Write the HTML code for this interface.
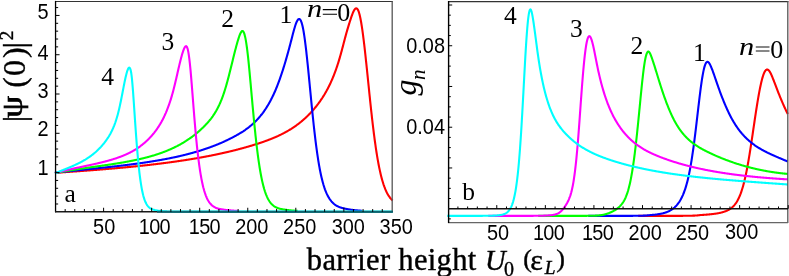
<!DOCTYPE html>
<html><head><meta charset="utf-8"><title>fig</title>
<style>
html,body{margin:0;padding:0;background:#fff;}
svg{display:block;will-change:transform}
text{fill:#000}
.sans{font-family:"Liberation Sans",sans-serif;font-size:19px}
.ser{font-family:"Liberation Serif",serif;font-size:25.5px}
</style></head><body>
<svg width="789" height="276" viewBox="0 0 789 276">
<rect width="789" height="276" fill="#fff"/>
<g fill="none" stroke-width="2.1" stroke-linejoin="round" stroke-linecap="butt">
<path d="M54.90,172.84 L55.28,172.81 L55.65,172.79 L56.03,172.76 L56.40,172.73 L56.78,172.71 L57.15,172.68 L57.53,172.66 L57.91,172.63 L58.28,172.61 L58.66,172.58 L59.03,172.56 L59.41,172.53 L59.78,172.51 L60.16,172.48 L60.54,172.46 L60.91,172.43 L61.29,172.40 L61.66,172.38 L62.04,172.35 L62.42,172.33 L62.79,172.30 L63.17,172.28 L63.54,172.25 L63.92,172.22 L64.29,172.20 L64.67,172.17 L65.05,172.15 L65.42,172.12 L65.80,172.09 L66.17,172.07 L66.55,172.04 L66.92,172.02 L67.30,171.99 L67.68,171.96 L68.05,171.94 L68.43,171.91 L68.80,171.89 L69.18,171.86 L69.55,171.83 L69.93,171.81 L70.31,171.78 L70.68,171.75 L71.06,171.73 L71.43,171.70 L71.81,171.67 L72.18,171.65 L72.56,171.62 L72.94,171.59 L73.31,171.57 L73.69,171.54 L74.06,171.51 L74.44,171.49 L74.81,171.46 L75.19,171.43 L75.57,171.41 L75.94,171.38 L76.32,171.35 L76.69,171.33 L77.07,171.30 L77.45,171.27 L77.82,171.25 L78.20,171.22 L78.57,171.19 L78.95,171.16 L79.32,171.14 L79.70,171.11 L80.08,171.08 L80.45,171.05 L80.83,171.03 L81.20,171.00 L81.58,170.97 L81.95,170.94 L82.33,170.92 L82.71,170.89 L83.08,170.86 L83.46,170.83 L83.83,170.81 L84.21,170.78 L84.58,170.75 L84.96,170.72 L85.34,170.69 L85.71,170.67 L86.09,170.64 L86.46,170.61 L86.84,170.58 L87.21,170.55 L87.59,170.52 L87.97,170.50 L88.34,170.47 L88.72,170.44 L89.09,170.41 L89.47,170.38 L89.84,170.35 L90.22,170.33 L90.60,170.30 L90.97,170.27 L91.35,170.24 L91.72,170.21 L92.10,170.18 L92.48,170.15 L92.85,170.12 L93.23,170.09 L93.60,170.06 L93.98,170.04 L94.35,170.01 L94.73,169.98 L95.11,169.95 L95.48,169.92 L95.86,169.89 L96.23,169.86 L96.61,169.83 L96.98,169.80 L97.36,169.77 L97.74,169.74 L98.11,169.71 L98.49,169.68 L98.86,169.65 L99.24,169.62 L99.61,169.59 L99.99,169.56 L100.37,169.53 L100.74,169.50 L101.12,169.47 L101.49,169.44 L101.87,169.41 L102.24,169.38 L102.62,169.35 L103.00,169.32 L103.37,169.29 L103.75,169.25 L104.12,169.22 L104.50,169.19 L104.87,169.16 L105.25,169.13 L105.63,169.10 L106.00,169.07 L106.38,169.04 L106.75,169.00 L107.13,168.97 L107.51,168.94 L107.88,168.91 L108.26,168.88 L108.63,168.85 L109.01,168.81 L109.38,168.78 L109.76,168.75 L110.14,168.72 L110.51,168.69 L110.89,168.65 L111.26,168.62 L111.64,168.59 L112.01,168.56 L112.39,168.52 L112.77,168.49 L113.14,168.46 L113.52,168.43 L113.89,168.39 L114.27,168.36 L114.64,168.33 L115.02,168.30 L115.40,168.26 L115.77,168.23 L116.15,168.20 L116.52,168.16 L116.90,168.13 L117.27,168.09 L117.65,168.06 L118.03,168.03 L118.40,167.99 L118.78,167.96 L119.15,167.93 L119.53,167.89 L119.90,167.86 L120.28,167.82 L120.66,167.79 L121.03,167.75 L121.41,167.72 L121.78,167.69 L122.16,167.65 L122.54,167.62 L122.91,167.58 L123.29,167.55 L123.66,167.51 L124.04,167.48 L124.41,167.44 L124.79,167.40 L125.17,167.37 L125.54,167.33 L125.92,167.30 L126.29,167.26 L126.67,167.23 L127.04,167.19 L127.42,167.15 L127.80,167.12 L128.17,167.08 L128.55,167.05 L128.92,167.01 L129.30,166.97 L129.67,166.94 L130.05,166.90 L130.43,166.86 L130.80,166.83 L131.18,166.79 L131.55,166.75 L131.93,166.71 L132.30,166.68 L132.68,166.64 L133.06,166.60 L133.43,166.56 L133.81,166.53 L134.18,166.49 L134.56,166.45 L134.93,166.41 L135.31,166.38 L135.69,166.34 L136.06,166.30 L136.44,166.26 L136.81,166.22 L137.19,166.18 L137.57,166.14 L137.94,166.10 L138.32,166.07 L138.69,166.03 L139.07,165.99 L139.44,165.95 L139.82,165.91 L140.20,165.87 L140.57,165.83 L140.95,165.79 L141.32,165.75 L141.70,165.71 L142.07,165.67 L142.45,165.63 L142.83,165.59 L143.20,165.55 L143.58,165.51 L143.95,165.47 L144.33,165.43 L144.70,165.38 L145.08,165.34 L145.46,165.30 L145.83,165.26 L146.21,165.22 L146.58,165.18 L146.96,165.14 L147.33,165.09 L147.71,165.05 L148.09,165.01 L148.46,164.97 L148.84,164.92 L149.21,164.88 L149.59,164.84 L149.96,164.80 L150.34,164.75 L150.72,164.71 L151.09,164.67 L151.47,164.62 L151.84,164.58 L152.22,164.54 L152.60,164.49 L152.97,164.45 L153.35,164.40 L153.72,164.36 L154.10,164.32 L154.47,164.27 L154.85,164.23 L155.23,164.18 L155.60,164.14 L155.98,164.09 L156.35,164.05 L156.73,164.00 L157.10,163.96 L157.48,163.91 L157.86,163.87 L158.23,163.82 L158.61,163.77 L158.98,163.73 L159.36,163.68 L159.73,163.63 L160.11,163.59 L160.49,163.54 L160.86,163.49 L161.24,163.45 L161.61,163.40 L161.99,163.35 L162.36,163.30 L162.74,163.26 L163.12,163.21 L163.49,163.16 L163.87,163.11 L164.24,163.07 L164.62,163.02 L164.99,162.97 L165.37,162.92 L165.75,162.87 L166.12,162.82 L166.50,162.77 L166.87,162.72 L167.25,162.67 L167.63,162.62 L168.00,162.57 L168.38,162.52 L168.75,162.47 L169.13,162.42 L169.50,162.37 L169.88,162.32 L170.26,162.27 L170.63,162.22 L171.01,162.17 L171.38,162.12 L171.76,162.07 L172.13,162.01 L172.51,161.96 L172.89,161.91 L173.26,161.86 L173.64,161.80 L174.01,161.75 L174.39,161.70 L174.76,161.65 L175.14,161.59 L175.52,161.54 L175.89,161.49 L176.27,161.43 L176.64,161.38 L177.02,161.32 L177.39,161.27 L177.77,161.22 L178.15,161.16 L178.52,161.11 L178.90,161.05 L179.27,161.00 L179.65,160.94 L180.03,160.89 L180.40,160.83 L180.78,160.77 L181.15,160.72 L181.53,160.66 L181.90,160.60 L182.28,160.55 L182.66,160.49 L183.03,160.43 L183.41,160.38 L183.78,160.32 L184.16,160.26 L184.53,160.20 L184.91,160.15 L185.29,160.09 L185.66,160.03 L186.04,159.97 L186.41,159.91 L186.79,159.85 L187.16,159.79 L187.54,159.73 L187.92,159.67 L188.29,159.61 L188.67,159.55 L189.04,159.49 L189.42,159.43 L189.79,159.37 L190.17,159.31 L190.55,159.25 L190.92,159.19 L191.30,159.13 L191.67,159.06 L192.05,159.00 L192.42,158.94 L192.80,158.88 L193.18,158.82 L193.55,158.75 L193.93,158.69 L194.30,158.63 L194.68,158.56 L195.06,158.50 L195.43,158.43 L195.81,158.37 L196.18,158.30 L196.56,158.24 L196.93,158.18 L197.31,158.11 L197.69,158.04 L198.06,157.98 L198.44,157.91 L198.81,157.85 L199.19,157.78 L199.56,157.71 L199.94,157.65 L200.32,157.58 L200.69,157.51 L201.07,157.44 L201.44,157.38 L201.82,157.31 L202.19,157.24 L202.57,157.17 L202.95,157.10 L203.32,157.03 L203.70,156.96 L204.07,156.89 L204.45,156.82 L204.82,156.75 L205.20,156.68 L205.58,156.61 L205.95,156.54 L206.33,156.47 L206.70,156.40 L207.08,156.33 L207.45,156.26 L207.83,156.18 L208.21,156.11 L208.58,156.04 L208.96,155.97 L209.33,155.89 L209.71,155.82 L210.09,155.74 L210.46,155.67 L210.84,155.60 L211.21,155.52 L211.59,155.45 L211.96,155.37 L212.34,155.30 L212.72,155.22 L213.09,155.14 L213.47,155.07 L213.84,154.99 L214.22,154.91 L214.59,154.84 L214.97,154.76 L215.35,154.68 L215.72,154.60 L216.10,154.53 L216.47,154.45 L216.85,154.37 L217.22,154.29 L217.60,154.21 L217.98,154.13 L218.35,154.05 L218.73,153.97 L219.10,153.89 L219.48,153.81 L219.85,153.73 L220.23,153.64 L220.61,153.56 L220.98,153.48 L221.36,153.40 L221.73,153.31 L222.11,153.23 L222.48,153.15 L222.86,153.06 L223.24,152.98 L223.61,152.90 L223.99,152.81 L224.36,152.73 L224.74,152.64 L225.12,152.55 L225.49,152.47 L225.87,152.38 L226.24,152.29 L226.62,152.21 L226.99,152.12 L227.37,152.03 L227.75,151.94 L228.12,151.86 L228.50,151.77 L228.87,151.68 L229.25,151.59 L229.62,151.50 L230.00,151.41 L230.38,151.32 L230.75,151.23 L231.13,151.14 L231.50,151.04 L231.88,150.95 L232.25,150.86 L232.63,150.77 L233.01,150.68 L233.38,150.58 L233.76,150.49 L234.13,150.39 L234.51,150.30 L234.88,150.20 L235.26,150.11 L235.64,150.01 L236.01,149.92 L236.39,149.82 L236.76,149.73 L237.14,149.63 L237.51,149.53 L237.89,149.43 L238.27,149.34 L238.64,149.24 L239.02,149.14 L239.39,149.04 L239.77,148.94 L240.15,148.84 L240.52,148.74 L240.90,148.64 L241.27,148.54 L241.65,148.43 L242.02,148.33 L242.40,148.23 L242.78,148.13 L243.15,148.02 L243.53,147.92 L243.90,147.82 L244.28,147.71 L244.65,147.61 L245.03,147.50 L245.41,147.40 L245.78,147.29 L246.16,147.18 L246.53,147.08 L246.91,146.97 L247.28,146.86 L247.66,146.75 L248.04,146.64 L248.41,146.53 L248.79,146.42 L249.16,146.31 L249.54,146.20 L249.91,146.09 L250.29,145.98 L250.67,145.87 L251.04,145.76 L251.42,145.65 L251.79,145.53 L252.17,145.42 L252.54,145.30 L252.92,145.19 L253.30,145.07 L253.67,144.96 L254.05,144.84 L254.42,144.73 L254.80,144.61 L255.18,144.49 L255.55,144.37 L255.93,144.26 L256.30,144.14 L256.68,144.02 L257.05,143.90 L257.43,143.78 L257.81,143.66 L258.18,143.54 L258.56,143.41 L258.93,143.29 L259.31,143.17 L259.68,143.04 L260.06,142.92 L260.44,142.79 L260.81,142.67 L261.19,142.54 L261.56,142.42 L261.94,142.29 L262.31,142.16 L262.69,142.03 L263.07,141.90 L263.44,141.77 L263.82,141.64 L264.19,141.51 L264.57,141.37 L264.94,141.24 L265.32,141.10 L265.70,140.97 L266.07,140.83 L266.45,140.69 L266.82,140.56 L267.20,140.42 L267.57,140.28 L267.95,140.14 L268.33,139.99 L268.70,139.85 L269.08,139.71 L269.45,139.56 L269.83,139.42 L270.21,139.27 L270.58,139.12 L270.96,138.97 L271.33,138.82 L271.71,138.67 L272.08,138.52 L272.46,138.37 L272.84,138.21 L273.21,138.06 L273.59,137.90 L273.96,137.74 L274.34,137.58 L274.71,137.42 L275.09,137.26 L275.47,137.10 L275.84,136.93 L276.22,136.76 L276.59,136.60 L276.97,136.43 L277.34,136.26 L277.72,136.09 L278.10,135.92 L278.47,135.74 L278.85,135.57 L279.22,135.39 L279.60,135.21 L279.97,135.03 L280.35,134.85 L280.73,134.67 L281.10,134.48 L281.48,134.30 L281.85,134.11 L282.23,133.92 L282.61,133.73 L282.98,133.53 L283.36,133.34 L283.73,133.14 L284.11,132.95 L284.48,132.75 L284.86,132.54 L285.24,132.34 L285.61,132.14 L285.99,131.93 L286.36,131.72 L286.74,131.51 L287.11,131.30 L287.49,131.08 L287.87,130.86 L288.24,130.65 L288.62,130.42 L288.99,130.20 L289.37,129.98 L289.74,129.75 L290.12,129.52 L290.50,129.29 L290.87,129.05 L291.25,128.82 L291.62,128.58 L292.00,128.34 L292.37,128.10 L292.75,127.85 L293.13,127.60 L293.50,127.35 L293.88,127.10 L294.25,126.85 L294.63,126.59 L295.00,126.33 L295.38,126.07 L295.76,125.80 L296.13,125.53 L296.51,125.26 L296.88,124.99 L297.26,124.71 L297.64,124.43 L298.01,124.15 L298.39,123.87 L298.76,123.58 L299.14,123.29 L299.51,123.00 L299.89,122.70 L300.27,122.40 L300.64,122.10 L301.02,121.80 L301.39,121.49 L301.77,121.18 L302.14,120.86 L302.52,120.54 L302.90,120.22 L303.27,119.90 L303.65,119.57 L304.02,119.24 L304.40,118.90 L304.77,118.56 L305.15,118.22 L305.53,117.88 L305.90,117.53 L306.28,117.17 L306.65,116.82 L307.03,116.46 L307.40,116.09 L307.78,115.72 L308.16,115.35 L308.53,114.97 L308.91,114.59 L309.28,114.21 L309.66,113.82 L310.03,113.43 L310.41,113.03 L310.79,112.63 L311.16,112.22 L311.54,111.81 L311.91,111.40 L312.29,110.98 L312.67,110.56 L313.04,110.13 L313.42,109.70 L313.79,109.26 L314.17,108.82 L314.54,108.37 L314.92,107.92 L315.30,107.46 L315.67,107.00 L316.05,106.53 L316.42,106.05 L316.80,105.58 L317.17,105.09 L317.55,104.60 L317.93,104.11 L318.30,103.61 L318.68,103.10 L319.05,102.59 L319.43,102.07 L319.80,101.55 L320.18,101.02 L320.56,100.48 L320.93,99.94 L321.31,99.39 L321.68,98.83 L322.06,98.27 L322.43,97.69 L322.81,97.11 L323.19,96.52 L323.56,95.92 L323.94,95.32 L324.31,94.70 L324.69,94.08 L325.06,93.44 L325.44,92.80 L325.82,92.15 L326.19,91.48 L326.57,90.81 L326.94,90.12 L327.32,89.43 L327.70,88.72 L328.07,88.00 L328.45,87.27 L328.82,86.52 L329.20,85.77 L329.57,85.00 L329.95,84.21 L330.33,83.42 L330.70,82.61 L331.08,81.78 L331.45,80.94 L331.83,80.09 L332.20,79.22 L332.58,78.33 L332.96,77.43 L333.33,76.51 L333.71,75.58 L334.08,74.62 L334.46,73.65 L334.83,72.66 L335.21,71.65 L335.59,70.62 L335.96,69.57 L336.34,68.50 L336.71,67.41 L337.09,66.30 L337.46,65.17 L337.84,64.01 L338.22,62.83 L338.59,61.63 L338.97,60.40 L339.34,59.15 L339.72,57.87 L340.09,56.56 L340.47,55.23 L340.85,53.88 L341.22,52.50 L341.60,51.11 L341.97,49.71 L342.35,48.29 L342.73,46.86 L343.10,45.42 L343.48,43.99 L343.85,42.55 L344.23,41.11 L344.60,39.69 L344.98,38.27 L345.36,36.87 L345.73,35.49 L346.11,34.12 L346.48,32.78 L346.86,31.46 L347.23,30.16 L347.61,28.88 L347.99,27.61 L348.36,26.37 L348.74,25.14 L349.11,23.93 L349.49,22.73 L349.86,21.55 L350.24,20.38 L350.62,19.22 L350.99,18.08 L351.37,16.96 L351.74,15.88 L352.12,14.83 L352.49,13.84 L352.87,12.90 L353.25,12.02 L353.62,11.22 L354.00,10.50 L354.37,9.86 L354.75,9.33 L355.12,8.90 L355.50,8.59 L355.88,8.40 L356.25,8.35 L356.63,8.43 L357.00,8.65 L357.38,9.04 L357.76,9.58 L358.13,10.28 L358.51,11.16 L358.88,12.22 L359.26,13.46 L359.63,14.88 L360.01,16.48 L360.39,18.25 L360.76,20.18 L361.14,22.28 L361.51,24.53 L361.89,26.93 L362.26,29.46 L362.64,32.13 L363.02,34.92 L363.39,37.83 L363.77,40.85 L364.14,43.97 L364.52,47.18 L364.89,50.47 L365.27,53.84 L365.65,57.28 L366.02,60.77 L366.40,64.32 L366.77,67.91 L367.15,71.53 L367.52,75.19 L367.90,78.86 L368.28,82.54 L368.65,86.22 L369.03,89.89 L369.40,93.54 L369.78,97.17 L370.15,100.77 L370.53,104.32 L370.91,107.83 L371.28,111.30 L371.66,114.70 L372.03,118.05 L372.41,121.33 L372.79,124.54 L373.16,127.68 L373.54,130.75 L373.91,133.75 L374.29,136.67 L374.66,139.50 L375.04,142.26 L375.42,144.94 L375.79,147.54 L376.17,150.05 L376.54,152.49 L376.92,154.84 L377.29,157.12 L377.67,159.31 L378.05,161.43 L378.42,163.47 L378.80,165.43 L379.17,167.33 L379.55,169.14 L379.92,170.89 L380.30,172.57 L380.68,174.18 L381.05,175.72 L381.43,177.20 L381.80,178.62 L382.18,179.97 L382.55,181.27 L382.93,182.51 L383.31,183.70 L383.68,184.84 L384.06,185.92 L384.43,186.96 L384.81,187.94 L385.18,188.89 L385.56,189.79 L385.94,190.64 L386.31,191.46 L386.69,192.24 L387.06,192.98 L387.44,193.69 L387.82,194.36 L388.19,195.00 L388.57,195.60 L388.94,196.18 L389.32,196.73 L389.69,197.25 L390.07,197.75 L390.45,198.22 L390.82,198.67 L391.20,199.09 L391.57,199.49 L391.95,199.87 L392.32,200.23 L392.70,200.58" stroke="#ff0000"/>
<path d="M54.90,172.72 L55.28,172.68 L55.65,172.63 L56.03,172.59 L56.40,172.55 L56.78,172.51 L57.15,172.47 L57.53,172.43 L57.91,172.39 L58.28,172.35 L58.66,172.31 L59.03,172.26 L59.41,172.22 L59.78,172.18 L60.16,172.14 L60.54,172.10 L60.91,172.06 L61.29,172.02 L61.66,171.98 L62.04,171.94 L62.42,171.90 L62.79,171.86 L63.17,171.82 L63.54,171.78 L63.92,171.74 L64.29,171.70 L64.67,171.66 L65.05,171.62 L65.42,171.58 L65.80,171.54 L66.17,171.50 L66.55,171.46 L66.92,171.42 L67.30,171.38 L67.68,171.34 L68.05,171.30 L68.43,171.26 L68.80,171.22 L69.18,171.18 L69.55,171.14 L69.93,171.10 L70.31,171.06 L70.68,171.02 L71.06,170.98 L71.43,170.94 L71.81,170.90 L72.18,170.87 L72.56,170.83 L72.94,170.79 L73.31,170.75 L73.69,170.71 L74.06,170.67 L74.44,170.63 L74.81,170.59 L75.19,170.55 L75.57,170.51 L75.94,170.47 L76.32,170.44 L76.69,170.40 L77.07,170.36 L77.45,170.32 L77.82,170.28 L78.20,170.24 L78.57,170.20 L78.95,170.16 L79.32,170.12 L79.70,170.09 L80.08,170.05 L80.45,170.01 L80.83,169.97 L81.20,169.93 L81.58,169.89 L81.95,169.85 L82.33,169.81 L82.71,169.78 L83.08,169.74 L83.46,169.70 L83.83,169.66 L84.21,169.62 L84.58,169.58 L84.96,169.54 L85.34,169.50 L85.71,169.47 L86.09,169.43 L86.46,169.39 L86.84,169.35 L87.21,169.31 L87.59,169.27 L87.97,169.23 L88.34,169.19 L88.72,169.16 L89.09,169.12 L89.47,169.08 L89.84,169.04 L90.22,169.00 L90.60,168.96 L90.97,168.92 L91.35,168.88 L91.72,168.84 L92.10,168.81 L92.48,168.77 L92.85,168.73 L93.23,168.69 L93.60,168.65 L93.98,168.61 L94.35,168.57 L94.73,168.53 L95.11,168.49 L95.48,168.45 L95.86,168.42 L96.23,168.38 L96.61,168.34 L96.98,168.30 L97.36,168.26 L97.74,168.22 L98.11,168.18 L98.49,168.14 L98.86,168.10 L99.24,168.06 L99.61,168.02 L99.99,167.98 L100.37,167.94 L100.74,167.90 L101.12,167.86 L101.49,167.82 L101.87,167.78 L102.24,167.74 L102.62,167.70 L103.00,167.66 L103.37,167.62 L103.75,167.58 L104.12,167.54 L104.50,167.50 L104.87,167.46 L105.25,167.42 L105.63,167.38 L106.00,167.34 L106.38,167.30 L106.75,167.26 L107.13,167.22 L107.51,167.18 L107.88,167.13 L108.26,167.09 L108.63,167.05 L109.01,167.01 L109.38,166.97 L109.76,166.93 L110.14,166.89 L110.51,166.85 L110.89,166.80 L111.26,166.76 L111.64,166.72 L112.01,166.68 L112.39,166.64 L112.77,166.60 L113.14,166.55 L113.52,166.51 L113.89,166.47 L114.27,166.43 L114.64,166.38 L115.02,166.34 L115.40,166.30 L115.77,166.26 L116.15,166.21 L116.52,166.17 L116.90,166.13 L117.27,166.08 L117.65,166.04 L118.03,166.00 L118.40,165.95 L118.78,165.91 L119.15,165.87 L119.53,165.82 L119.90,165.78 L120.28,165.73 L120.66,165.69 L121.03,165.65 L121.41,165.60 L121.78,165.56 L122.16,165.51 L122.54,165.47 L122.91,165.42 L123.29,165.38 L123.66,165.33 L124.04,165.29 L124.41,165.24 L124.79,165.20 L125.17,165.15 L125.54,165.10 L125.92,165.06 L126.29,165.01 L126.67,164.97 L127.04,164.92 L127.42,164.87 L127.80,164.83 L128.17,164.78 L128.55,164.73 L128.92,164.68 L129.30,164.64 L129.67,164.59 L130.05,164.54 L130.43,164.49 L130.80,164.45 L131.18,164.40 L131.55,164.35 L131.93,164.30 L132.30,164.25 L132.68,164.20 L133.06,164.15 L133.43,164.10 L133.81,164.06 L134.18,164.01 L134.56,163.96 L134.93,163.91 L135.31,163.86 L135.69,163.81 L136.06,163.76 L136.44,163.70 L136.81,163.65 L137.19,163.60 L137.57,163.55 L137.94,163.50 L138.32,163.45 L138.69,163.40 L139.07,163.34 L139.44,163.29 L139.82,163.24 L140.20,163.19 L140.57,163.13 L140.95,163.08 L141.32,163.03 L141.70,162.97 L142.07,162.92 L142.45,162.87 L142.83,162.81 L143.20,162.76 L143.58,162.70 L143.95,162.65 L144.33,162.59 L144.70,162.54 L145.08,162.48 L145.46,162.43 L145.83,162.37 L146.21,162.32 L146.58,162.26 L146.96,162.20 L147.33,162.15 L147.71,162.09 L148.09,162.03 L148.46,161.97 L148.84,161.92 L149.21,161.86 L149.59,161.80 L149.96,161.74 L150.34,161.68 L150.72,161.62 L151.09,161.56 L151.47,161.50 L151.84,161.44 L152.22,161.38 L152.60,161.32 L152.97,161.26 L153.35,161.20 L153.72,161.14 L154.10,161.08 L154.47,161.02 L154.85,160.95 L155.23,160.89 L155.60,160.83 L155.98,160.77 L156.35,160.70 L156.73,160.64 L157.10,160.57 L157.48,160.51 L157.86,160.45 L158.23,160.38 L158.61,160.32 L158.98,160.25 L159.36,160.19 L159.73,160.12 L160.11,160.05 L160.49,159.99 L160.86,159.92 L161.24,159.85 L161.61,159.78 L161.99,159.72 L162.36,159.65 L162.74,159.58 L163.12,159.51 L163.49,159.44 L163.87,159.37 L164.24,159.30 L164.62,159.23 L164.99,159.16 L165.37,159.09 L165.75,159.02 L166.12,158.95 L166.50,158.87 L166.87,158.80 L167.25,158.73 L167.63,158.66 L168.00,158.58 L168.38,158.51 L168.75,158.43 L169.13,158.36 L169.50,158.28 L169.88,158.21 L170.26,158.13 L170.63,158.06 L171.01,157.98 L171.38,157.90 L171.76,157.83 L172.13,157.75 L172.51,157.67 L172.89,157.59 L173.26,157.51 L173.64,157.43 L174.01,157.35 L174.39,157.27 L174.76,157.19 L175.14,157.11 L175.52,157.03 L175.89,156.95 L176.27,156.87 L176.64,156.78 L177.02,156.70 L177.39,156.62 L177.77,156.53 L178.15,156.45 L178.52,156.36 L178.90,156.28 L179.27,156.19 L179.65,156.11 L180.03,156.02 L180.40,155.93 L180.78,155.84 L181.15,155.76 L181.53,155.67 L181.90,155.58 L182.28,155.49 L182.66,155.40 L183.03,155.31 L183.41,155.22 L183.78,155.12 L184.16,155.03 L184.53,154.94 L184.91,154.85 L185.29,154.75 L185.66,154.66 L186.04,154.56 L186.41,154.47 L186.79,154.37 L187.16,154.28 L187.54,154.18 L187.92,154.08 L188.29,153.99 L188.67,153.89 L189.04,153.79 L189.42,153.69 L189.79,153.59 L190.17,153.49 L190.55,153.39 L190.92,153.29 L191.30,153.18 L191.67,153.08 L192.05,152.98 L192.42,152.87 L192.80,152.77 L193.18,152.66 L193.55,152.56 L193.93,152.45 L194.30,152.35 L194.68,152.24 L195.06,152.13 L195.43,152.02 L195.81,151.91 L196.18,151.80 L196.56,151.69 L196.93,151.58 L197.31,151.47 L197.69,151.36 L198.06,151.24 L198.44,151.13 L198.81,151.02 L199.19,150.90 L199.56,150.78 L199.94,150.67 L200.32,150.55 L200.69,150.43 L201.07,150.32 L201.44,150.20 L201.82,150.08 L202.19,149.96 L202.57,149.84 L202.95,149.71 L203.32,149.59 L203.70,149.47 L204.07,149.34 L204.45,149.22 L204.82,149.09 L205.20,148.97 L205.58,148.84 L205.95,148.71 L206.33,148.58 L206.70,148.46 L207.08,148.33 L207.45,148.20 L207.83,148.06 L208.21,147.93 L208.58,147.80 L208.96,147.67 L209.33,147.53 L209.71,147.40 L210.09,147.26 L210.46,147.12 L210.84,146.98 L211.21,146.85 L211.59,146.71 L211.96,146.57 L212.34,146.43 L212.72,146.28 L213.09,146.14 L213.47,146.00 L213.84,145.85 L214.22,145.71 L214.59,145.56 L214.97,145.41 L215.35,145.27 L215.72,145.12 L216.10,144.97 L216.47,144.82 L216.85,144.67 L217.22,144.51 L217.60,144.36 L217.98,144.21 L218.35,144.05 L218.73,143.90 L219.10,143.74 L219.48,143.58 L219.85,143.42 L220.23,143.26 L220.61,143.10 L220.98,142.94 L221.36,142.78 L221.73,142.61 L222.11,142.45 L222.48,142.28 L222.86,142.11 L223.24,141.95 L223.61,141.78 L223.99,141.61 L224.36,141.44 L224.74,141.26 L225.12,141.09 L225.49,140.92 L225.87,140.74 L226.24,140.57 L226.62,140.39 L226.99,140.21 L227.37,140.03 L227.75,139.85 L228.12,139.67 L228.50,139.48 L228.87,139.30 L229.25,139.11 L229.62,138.93 L230.00,138.74 L230.38,138.55 L230.75,138.36 L231.13,138.17 L231.50,137.98 L231.88,137.79 L232.25,137.59 L232.63,137.39 L233.01,137.20 L233.38,137.00 L233.76,136.80 L234.13,136.60 L234.51,136.40 L234.88,136.19 L235.26,135.99 L235.64,135.78 L236.01,135.57 L236.39,135.37 L236.76,135.15 L237.14,134.94 L237.51,134.73 L237.89,134.51 L238.27,134.30 L238.64,134.08 L239.02,133.86 L239.39,133.64 L239.77,133.41 L240.15,133.18 L240.52,132.96 L240.90,132.73 L241.27,132.49 L241.65,132.26 L242.02,132.02 L242.40,131.78 L242.78,131.54 L243.15,131.29 L243.53,131.05 L243.90,130.79 L244.28,130.54 L244.65,130.29 L245.03,130.03 L245.41,129.77 L245.78,129.50 L246.16,129.23 L246.53,128.96 L246.91,128.69 L247.28,128.41 L247.66,128.13 L248.04,127.85 L248.41,127.56 L248.79,127.27 L249.16,126.97 L249.54,126.67 L249.91,126.37 L250.29,126.06 L250.67,125.75 L251.04,125.44 L251.42,125.12 L251.79,124.79 L252.17,124.47 L252.54,124.13 L252.92,123.80 L253.30,123.45 L253.67,123.11 L254.05,122.76 L254.42,122.40 L254.80,122.04 L255.18,121.67 L255.55,121.30 L255.93,120.92 L256.30,120.54 L256.68,120.15 L257.05,119.75 L257.43,119.35 L257.81,118.94 L258.18,118.53 L258.56,118.11 L258.93,117.69 L259.31,117.25 L259.68,116.82 L260.06,116.37 L260.44,115.92 L260.81,115.46 L261.19,114.99 L261.56,114.52 L261.94,114.04 L262.31,113.55 L262.69,113.05 L263.07,112.55 L263.44,112.03 L263.82,111.51 L264.19,110.98 L264.57,110.44 L264.94,109.90 L265.32,109.34 L265.70,108.78 L266.07,108.20 L266.45,107.62 L266.82,107.03 L267.20,106.42 L267.57,105.81 L267.95,105.19 L268.33,104.55 L268.70,103.91 L269.08,103.25 L269.45,102.59 L269.83,101.91 L270.21,101.22 L270.58,100.52 L270.96,99.81 L271.33,99.08 L271.71,98.34 L272.08,97.59 L272.46,96.83 L272.84,96.05 L273.21,95.26 L273.59,94.46 L273.96,93.64 L274.34,92.81 L274.71,91.96 L275.09,91.10 L275.47,90.22 L275.84,89.33 L276.22,88.42 L276.59,87.50 L276.97,86.57 L277.34,85.61 L277.72,84.65 L278.10,83.67 L278.47,82.67 L278.85,81.66 L279.22,80.63 L279.60,79.59 L279.97,78.53 L280.35,77.46 L280.73,76.38 L281.10,75.28 L281.48,74.16 L281.85,73.03 L282.23,71.89 L282.61,70.73 L282.98,69.56 L283.36,68.37 L283.73,67.17 L284.11,65.95 L284.48,64.72 L284.86,63.48 L285.24,62.22 L285.61,60.95 L285.99,59.67 L286.36,58.37 L286.74,57.06 L287.11,55.74 L287.49,54.40 L287.87,53.05 L288.24,51.69 L288.62,50.32 L288.99,48.93 L289.37,47.54 L289.74,46.13 L290.12,44.71 L290.50,43.27 L290.87,41.83 L291.25,40.38 L291.62,38.92 L292.00,37.45 L292.37,35.99 L292.75,34.54 L293.13,33.10 L293.50,31.70 L293.88,30.32 L294.25,28.98 L294.63,27.69 L295.00,26.46 L295.38,25.29 L295.76,24.20 L296.13,23.18 L296.51,22.26 L296.88,21.43 L297.26,20.71 L297.64,20.10 L298.01,19.62 L298.39,19.26 L298.76,19.05 L299.14,18.98 L299.51,19.06 L299.89,19.31 L300.27,19.72 L300.64,20.31 L301.02,21.08 L301.39,22.02 L301.77,23.16 L302.14,24.49 L302.52,26.01 L302.90,27.73 L303.27,29.65 L303.65,31.76 L304.02,34.07 L304.40,36.56 L304.77,39.23 L305.15,42.06 L305.53,45.04 L305.90,48.17 L306.28,51.42 L306.65,54.78 L307.03,58.26 L307.40,61.82 L307.78,65.46 L308.16,69.18 L308.53,72.95 L308.91,76.76 L309.28,80.61 L309.66,84.49 L310.03,88.38 L310.41,92.27 L310.79,96.15 L311.16,100.02 L311.54,103.85 L311.91,107.64 L312.29,111.39 L312.67,115.08 L313.04,118.70 L313.42,122.26 L313.79,125.74 L314.17,129.15 L314.54,132.47 L314.92,135.70 L315.30,138.84 L315.67,141.89 L316.05,144.85 L316.42,147.71 L316.80,150.47 L317.17,153.14 L317.55,155.72 L317.93,158.20 L318.30,160.58 L318.68,162.87 L319.05,165.07 L319.43,167.18 L319.80,169.20 L320.18,171.13 L320.56,172.98 L320.93,174.75 L321.31,176.44 L321.68,178.05 L322.06,179.59 L322.43,181.06 L322.81,182.46 L323.19,183.79 L323.56,185.07 L323.94,186.28 L324.31,187.44 L324.69,188.54 L325.06,189.59 L325.44,190.59 L325.82,191.54 L326.19,192.45 L326.57,193.31 L326.94,194.13 L327.32,194.91 L327.70,195.66 L328.07,196.37 L328.45,197.04 L328.82,197.68 L329.20,198.29 L329.57,198.87 L329.95,199.42 L330.33,199.94 L330.70,200.44 L331.08,200.91 L331.45,201.36 L331.83,201.79 L332.20,202.20 L332.58,202.58 L332.96,202.95 L333.33,203.30 L333.71,203.63 L334.08,203.95 L334.46,204.25 L334.83,204.53 L335.21,204.80 L335.59,205.06 L335.96,205.31 L336.34,205.54 L336.71,205.76 L337.09,205.97 L337.46,206.17 L337.84,206.36 L338.22,206.54 L338.59,206.71 L338.97,206.87 L339.34,207.03 L339.72,207.17 L340.09,207.31 L340.47,207.44 L340.85,207.57 L341.22,207.69 L341.60,207.80 L341.97,207.91 L342.35,208.01 L342.73,208.11 L343.10,208.20 L343.48,208.29 L343.85,208.38 L344.23,208.47 L344.60,208.55 L344.98,208.64 L345.36,208.72 L345.73,208.79 L346.11,208.87 L346.48,208.94 L346.86,209.02 L347.23,209.09 L347.61,209.16 L347.99,209.22 L348.36,209.29 L348.74,209.35 L349.11,209.41 L349.49,209.47 L349.86,209.53 L350.24,209.58 L350.62,209.64 L350.99,209.69 L351.37,209.75 L351.74,209.80 L352.12,209.85 L352.49,209.89 L352.87,209.94 L353.25,209.99 L353.62,210.03 L354.00,210.07 L354.37,210.12 L354.75,210.16 L355.12,210.20 L355.50,210.23 L355.88,210.27 L356.25,210.31 L356.63,210.34 L357.00,210.38 L357.38,210.41 L357.76,210.45 L358.13,210.48 L358.51,210.51 L358.88,210.54 L359.26,210.57 L359.63,210.60 L360.01,210.63 L360.39,210.65 L360.76,210.68 L361.14,210.71 L361.51,210.73 L361.89,210.76" stroke="#0000ff"/>
<path d="M54.90,173.05 L55.28,172.98 L55.65,172.91 L56.03,172.84 L56.40,172.77 L56.78,172.70 L57.15,172.63 L57.53,172.56 L57.91,172.49 L58.28,172.43 L58.66,172.36 L59.03,172.29 L59.41,172.22 L59.78,172.16 L60.16,172.09 L60.54,172.02 L60.91,171.96 L61.29,171.89 L61.66,171.82 L62.04,171.76 L62.42,171.69 L62.79,171.63 L63.17,171.56 L63.54,171.50 L63.92,171.43 L64.29,171.37 L64.67,171.30 L65.05,171.24 L65.42,171.18 L65.80,171.11 L66.17,171.05 L66.55,170.99 L66.92,170.92 L67.30,170.86 L67.68,170.80 L68.05,170.74 L68.43,170.68 L68.80,170.61 L69.18,170.55 L69.55,170.49 L69.93,170.43 L70.31,170.37 L70.68,170.31 L71.06,170.25 L71.43,170.19 L71.81,170.13 L72.18,170.07 L72.56,170.01 L72.94,169.95 L73.31,169.89 L73.69,169.83 L74.06,169.77 L74.44,169.72 L74.81,169.66 L75.19,169.60 L75.57,169.54 L75.94,169.48 L76.32,169.42 L76.69,169.37 L77.07,169.31 L77.45,169.25 L77.82,169.19 L78.20,169.14 L78.57,169.08 L78.95,169.02 L79.32,168.97 L79.70,168.91 L80.08,168.85 L80.45,168.80 L80.83,168.74 L81.20,168.69 L81.58,168.63 L81.95,168.58 L82.33,168.52 L82.71,168.46 L83.08,168.41 L83.46,168.35 L83.83,168.30 L84.21,168.24 L84.58,168.19 L84.96,168.13 L85.34,168.08 L85.71,168.02 L86.09,167.97 L86.46,167.92 L86.84,167.86 L87.21,167.81 L87.59,167.75 L87.97,167.70 L88.34,167.64 L88.72,167.59 L89.09,167.54 L89.47,167.48 L89.84,167.43 L90.22,167.37 L90.60,167.32 L90.97,167.27 L91.35,167.21 L91.72,167.16 L92.10,167.11 L92.48,167.05 L92.85,167.00 L93.23,166.94 L93.60,166.89 L93.98,166.84 L94.35,166.78 L94.73,166.73 L95.11,166.68 L95.48,166.62 L95.86,166.57 L96.23,166.52 L96.61,166.46 L96.98,166.41 L97.36,166.36 L97.74,166.30 L98.11,166.25 L98.49,166.19 L98.86,166.14 L99.24,166.09 L99.61,166.03 L99.99,165.98 L100.37,165.93 L100.74,165.87 L101.12,165.82 L101.49,165.76 L101.87,165.71 L102.24,165.65 L102.62,165.60 L103.00,165.55 L103.37,165.49 L103.75,165.44 L104.12,165.38 L104.50,165.33 L104.87,165.27 L105.25,165.22 L105.63,165.16 L106.00,165.11 L106.38,165.05 L106.75,165.00 L107.13,164.94 L107.51,164.89 L107.88,164.83 L108.26,164.77 L108.63,164.72 L109.01,164.66 L109.38,164.60 L109.76,164.55 L110.14,164.49 L110.51,164.43 L110.89,164.38 L111.26,164.32 L111.64,164.26 L112.01,164.20 L112.39,164.15 L112.77,164.09 L113.14,164.03 L113.52,163.97 L113.89,163.91 L114.27,163.85 L114.64,163.80 L115.02,163.74 L115.40,163.68 L115.77,163.62 L116.15,163.56 L116.52,163.50 L116.90,163.44 L117.27,163.38 L117.65,163.31 L118.03,163.25 L118.40,163.19 L118.78,163.13 L119.15,163.07 L119.53,163.01 L119.90,162.94 L120.28,162.88 L120.66,162.82 L121.03,162.75 L121.41,162.69 L121.78,162.63 L122.16,162.56 L122.54,162.50 L122.91,162.43 L123.29,162.37 L123.66,162.30 L124.04,162.23 L124.41,162.17 L124.79,162.10 L125.17,162.03 L125.54,161.97 L125.92,161.90 L126.29,161.83 L126.67,161.76 L127.04,161.69 L127.42,161.62 L127.80,161.55 L128.17,161.48 L128.55,161.41 L128.92,161.34 L129.30,161.27 L129.67,161.20 L130.05,161.12 L130.43,161.05 L130.80,160.98 L131.18,160.90 L131.55,160.83 L131.93,160.75 L132.30,160.68 L132.68,160.60 L133.06,160.53 L133.43,160.45 L133.81,160.37 L134.18,160.30 L134.56,160.22 L134.93,160.14 L135.31,160.06 L135.69,159.98 L136.06,159.90 L136.44,159.82 L136.81,159.74 L137.19,159.66 L137.57,159.57 L137.94,159.49 L138.32,159.41 L138.69,159.32 L139.07,159.24 L139.44,159.15 L139.82,159.07 L140.20,158.98 L140.57,158.89 L140.95,158.81 L141.32,158.72 L141.70,158.63 L142.07,158.54 L142.45,158.45 L142.83,158.36 L143.20,158.27 L143.58,158.17 L143.95,158.08 L144.33,157.99 L144.70,157.89 L145.08,157.80 L145.46,157.70 L145.83,157.60 L146.21,157.51 L146.58,157.41 L146.96,157.31 L147.33,157.21 L147.71,157.11 L148.09,157.01 L148.46,156.91 L148.84,156.80 L149.21,156.70 L149.59,156.60 L149.96,156.49 L150.34,156.38 L150.72,156.28 L151.09,156.17 L151.47,156.06 L151.84,155.95 L152.22,155.84 L152.60,155.73 L152.97,155.62 L153.35,155.51 L153.72,155.39 L154.10,155.28 L154.47,155.16 L154.85,155.05 L155.23,154.93 L155.60,154.81 L155.98,154.69 L156.35,154.57 L156.73,154.45 L157.10,154.33 L157.48,154.20 L157.86,154.08 L158.23,153.95 L158.61,153.83 L158.98,153.70 L159.36,153.57 L159.73,153.44 L160.11,153.31 L160.49,153.18 L160.86,153.05 L161.24,152.91 L161.61,152.78 L161.99,152.64 L162.36,152.50 L162.74,152.37 L163.12,152.23 L163.49,152.09 L163.87,151.94 L164.24,151.80 L164.62,151.66 L164.99,151.51 L165.37,151.36 L165.75,151.21 L166.12,151.07 L166.50,150.91 L166.87,150.76 L167.25,150.61 L167.63,150.45 L168.00,150.30 L168.38,150.14 L168.75,149.98 L169.13,149.82 L169.50,149.66 L169.88,149.50 L170.26,149.33 L170.63,149.17 L171.01,149.00 L171.38,148.83 L171.76,148.66 L172.13,148.49 L172.51,148.32 L172.89,148.14 L173.26,147.97 L173.64,147.79 L174.01,147.61 L174.39,147.43 L174.76,147.25 L175.14,147.06 L175.52,146.88 L175.89,146.69 L176.27,146.50 L176.64,146.31 L177.02,146.12 L177.39,145.92 L177.77,145.73 L178.15,145.53 L178.52,145.33 L178.90,145.13 L179.27,144.93 L179.65,144.72 L180.03,144.52 L180.40,144.31 L180.78,144.10 L181.15,143.89 L181.53,143.67 L181.90,143.46 L182.28,143.24 L182.66,143.02 L183.03,142.80 L183.41,142.57 L183.78,142.35 L184.16,142.12 L184.53,141.89 L184.91,141.66 L185.29,141.42 L185.66,141.18 L186.04,140.95 L186.41,140.71 L186.79,140.46 L187.16,140.22 L187.54,139.97 L187.92,139.72 L188.29,139.47 L188.67,139.21 L189.04,138.96 L189.42,138.70 L189.79,138.43 L190.17,138.17 L190.55,137.90 L190.92,137.63 L191.30,137.36 L191.67,137.09 L192.05,136.81 L192.42,136.53 L192.80,136.25 L193.18,135.96 L193.55,135.68 L193.93,135.39 L194.30,135.09 L194.68,134.80 L195.06,134.50 L195.43,134.20 L195.81,133.90 L196.18,133.59 L196.56,133.28 L196.93,132.97 L197.31,132.65 L197.69,132.33 L198.06,132.01 L198.44,131.68 L198.81,131.36 L199.19,131.02 L199.56,130.69 L199.94,130.35 L200.32,130.01 L200.69,129.67 L201.07,129.32 L201.44,128.97 L201.82,128.61 L202.19,128.26 L202.57,127.89 L202.95,127.53 L203.32,127.16 L203.70,126.79 L204.07,126.41 L204.45,126.03 L204.82,125.65 L205.20,125.26 L205.58,124.87 L205.95,124.48 L206.33,124.08 L206.70,123.67 L207.08,123.27 L207.45,122.85 L207.83,122.43 L208.21,122.01 L208.58,121.57 L208.96,121.14 L209.33,120.69 L209.71,120.24 L210.09,119.78 L210.46,119.31 L210.84,118.83 L211.21,118.34 L211.59,117.85 L211.96,117.34 L212.34,116.82 L212.72,116.30 L213.09,115.76 L213.47,115.21 L213.84,114.65 L214.22,114.07 L214.59,113.49 L214.97,112.89 L215.35,112.27 L215.72,111.64 L216.10,111.00 L216.47,110.34 L216.85,109.66 L217.22,108.97 L217.60,108.26 L217.98,107.53 L218.35,106.78 L218.73,106.01 L219.10,105.22 L219.48,104.42 L219.85,103.59 L220.23,102.73 L220.61,101.86 L220.98,100.96 L221.36,100.03 L221.73,99.09 L222.11,98.11 L222.48,97.11 L222.86,96.07 L223.24,95.01 L223.61,93.92 L223.99,92.80 L224.36,91.65 L224.74,90.46 L225.12,89.25 L225.49,88.01 L225.87,86.74 L226.24,85.45 L226.62,84.13 L226.99,82.78 L227.37,81.42 L227.75,80.03 L228.12,78.62 L228.50,77.19 L228.87,75.74 L229.25,74.28 L229.62,72.80 L230.00,71.30 L230.38,69.80 L230.75,68.29 L231.13,66.77 L231.50,65.24 L231.88,63.71 L232.25,62.17 L232.63,60.64 L233.01,59.11 L233.38,57.58 L233.76,56.06 L234.13,54.55 L234.51,53.05 L234.88,51.57 L235.26,50.10 L235.64,48.66 L236.01,47.24 L236.39,45.84 L236.76,44.47 L237.14,43.13 L237.51,41.83 L237.89,40.57 L238.27,39.35 L238.64,38.17 L239.02,37.04 L239.39,35.96 L239.77,34.95 L240.15,34.02 L240.52,33.18 L240.90,32.46 L241.27,31.87 L241.65,31.43 L242.02,31.14 L242.40,31.04 L242.78,31.12 L243.15,31.42 L243.53,31.93 L243.90,32.68 L244.28,33.67 L244.65,34.91 L245.03,36.40 L245.41,38.13 L245.78,40.11 L246.16,42.34 L246.53,44.80 L246.91,47.51 L247.28,50.44 L247.66,53.59 L248.04,56.94 L248.41,60.48 L248.79,64.17 L249.16,68.00 L249.54,71.93 L249.91,75.96 L250.29,80.06 L250.67,84.21 L251.04,88.38 L251.42,92.57 L251.79,96.76 L252.17,100.93 L252.54,105.07 L252.92,109.16 L253.30,113.19 L253.67,117.16 L254.05,121.05 L254.42,124.87 L254.80,128.59 L255.18,132.23 L255.55,135.77 L255.93,139.21 L256.30,142.55 L256.68,145.78 L257.05,148.91 L257.43,151.92 L257.81,154.83 L258.18,157.63 L258.56,160.33 L258.93,162.91 L259.31,165.39 L259.68,167.76 L260.06,170.04 L260.44,172.21 L260.81,174.28 L261.19,176.26 L261.56,178.14 L261.94,179.93 L262.31,181.64 L262.69,183.26 L263.07,184.80 L263.44,186.26 L263.82,187.64 L264.19,188.95 L264.57,190.19 L264.94,191.37 L265.32,192.48 L265.70,193.53 L266.07,194.52 L266.45,195.46 L266.82,196.34 L267.20,197.17 L267.57,197.96 L267.95,198.70 L268.33,199.40 L268.70,200.06 L269.08,200.68 L269.45,201.26 L269.83,201.81 L270.21,202.32 L270.58,202.81 L270.96,203.27 L271.33,203.69 L271.71,204.10 L272.08,204.48 L272.46,204.83 L272.84,205.17 L273.21,205.48 L273.59,205.78 L273.96,206.06 L274.34,206.32 L274.71,206.56 L275.09,206.79 L275.47,207.00 L275.84,207.21 L276.22,207.40 L276.59,207.57 L276.97,207.74 L277.34,207.90 L277.72,208.04 L278.10,208.18 L278.47,208.31 L278.85,208.43 L279.22,208.54 L279.60,208.65 L279.97,208.74 L280.35,208.84 L280.73,208.92 L281.10,209.00 L281.48,209.07 L281.85,209.14 L282.23,209.21 L282.61,209.28 L282.98,209.34 L283.36,209.41 L283.73,209.47 L284.11,209.53 L284.48,209.59 L284.86,209.64 L285.24,209.70 L285.61,209.75 L285.99,209.80 L286.36,209.85 L286.74,209.90 L287.11,209.95 L287.49,210.00 L287.87,210.04 L288.24,210.09 L288.62,210.13 L288.99,210.17 L289.37,210.21 L289.74,210.25 L290.12,210.29 L290.50,210.33 L290.87,210.36 L291.25,210.40 L291.62,210.43 L292.00,210.47 L292.37,210.50 L292.75,210.53 L293.13,210.56 L293.50,210.59 L293.88,210.62 L294.25,210.65 L294.63,210.68 L295.00,210.70 L295.38,210.73 L295.76,210.75 L296.13,210.78 L296.51,210.80 L296.88,210.82 L297.26,210.85 L297.64,210.87" stroke="#00ff00"/>
<path d="M54.90,173.00 L55.28,172.90 L55.65,172.80 L56.03,172.71 L56.40,172.61 L56.78,172.51 L57.15,172.42 L57.53,172.32 L57.91,172.22 L58.28,172.13 L58.66,172.03 L59.03,171.94 L59.41,171.85 L59.78,171.75 L60.16,171.66 L60.54,171.57 L60.91,171.47 L61.29,171.38 L61.66,171.29 L62.04,171.20 L62.42,171.11 L62.79,171.02 L63.17,170.93 L63.54,170.84 L63.92,170.75 L64.29,170.66 L64.67,170.57 L65.05,170.48 L65.42,170.40 L65.80,170.31 L66.17,170.22 L66.55,170.14 L66.92,170.05 L67.30,169.96 L67.68,169.88 L68.05,169.79 L68.43,169.71 L68.80,169.62 L69.18,169.54 L69.55,169.45 L69.93,169.37 L70.31,169.28 L70.68,169.20 L71.06,169.12 L71.43,169.03 L71.81,168.95 L72.18,168.87 L72.56,168.78 L72.94,168.70 L73.31,168.62 L73.69,168.54 L74.06,168.46 L74.44,168.37 L74.81,168.29 L75.19,168.21 L75.57,168.13 L75.94,168.05 L76.32,167.97 L76.69,167.89 L77.07,167.81 L77.45,167.73 L77.82,167.65 L78.20,167.57 L78.57,167.49 L78.95,167.41 L79.32,167.33 L79.70,167.25 L80.08,167.17 L80.45,167.09 L80.83,167.01 L81.20,166.93 L81.58,166.85 L81.95,166.77 L82.33,166.69 L82.71,166.61 L83.08,166.53 L83.46,166.45 L83.83,166.37 L84.21,166.29 L84.58,166.21 L84.96,166.13 L85.34,166.05 L85.71,165.97 L86.09,165.89 L86.46,165.81 L86.84,165.73 L87.21,165.65 L87.59,165.57 L87.97,165.49 L88.34,165.41 L88.72,165.33 L89.09,165.25 L89.47,165.17 L89.84,165.08 L90.22,165.00 L90.60,164.92 L90.97,164.84 L91.35,164.76 L91.72,164.67 L92.10,164.59 L92.48,164.51 L92.85,164.43 L93.23,164.34 L93.60,164.26 L93.98,164.18 L94.35,164.09 L94.73,164.01 L95.11,163.92 L95.48,163.84 L95.86,163.75 L96.23,163.66 L96.61,163.58 L96.98,163.49 L97.36,163.40 L97.74,163.32 L98.11,163.23 L98.49,163.14 L98.86,163.05 L99.24,162.96 L99.61,162.87 L99.99,162.78 L100.37,162.69 L100.74,162.60 L101.12,162.51 L101.49,162.42 L101.87,162.32 L102.24,162.23 L102.62,162.14 L103.00,162.04 L103.37,161.95 L103.75,161.85 L104.12,161.75 L104.50,161.66 L104.87,161.56 L105.25,161.46 L105.63,161.36 L106.00,161.26 L106.38,161.16 L106.75,161.06 L107.13,160.96 L107.51,160.86 L107.88,160.75 L108.26,160.65 L108.63,160.55 L109.01,160.44 L109.38,160.33 L109.76,160.23 L110.14,160.12 L110.51,160.01 L110.89,159.90 L111.26,159.79 L111.64,159.68 L112.01,159.56 L112.39,159.45 L112.77,159.34 L113.14,159.22 L113.52,159.10 L113.89,158.99 L114.27,158.87 L114.64,158.75 L115.02,158.63 L115.40,158.50 L115.77,158.38 L116.15,158.25 L116.52,158.13 L116.90,158.00 L117.27,157.87 L117.65,157.74 L118.03,157.61 L118.40,157.48 L118.78,157.34 L119.15,157.21 L119.53,157.07 L119.90,156.93 L120.28,156.79 L120.66,156.65 L121.03,156.51 L121.41,156.36 L121.78,156.22 L122.16,156.07 L122.54,155.92 L122.91,155.77 L123.29,155.61 L123.66,155.46 L124.04,155.30 L124.41,155.14 L124.79,154.98 L125.17,154.82 L125.54,154.65 L125.92,154.49 L126.29,154.32 L126.67,154.15 L127.04,153.98 L127.42,153.80 L127.80,153.62 L128.17,153.44 L128.55,153.26 L128.92,153.08 L129.30,152.89 L129.67,152.70 L130.05,152.51 L130.43,152.32 L130.80,152.12 L131.18,151.92 L131.55,151.72 L131.93,151.52 L132.30,151.31 L132.68,151.10 L133.06,150.89 L133.43,150.67 L133.81,150.46 L134.18,150.24 L134.56,150.01 L134.93,149.79 L135.31,149.56 L135.69,149.32 L136.06,149.09 L136.44,148.85 L136.81,148.61 L137.19,148.36 L137.57,148.11 L137.94,147.86 L138.32,147.60 L138.69,147.34 L139.07,147.08 L139.44,146.81 L139.82,146.54 L140.20,146.27 L140.57,145.99 L140.95,145.71 L141.32,145.43 L141.70,145.14 L142.07,144.84 L142.45,144.54 L142.83,144.24 L143.20,143.94 L143.58,143.62 L143.95,143.31 L144.33,142.99 L144.70,142.67 L145.08,142.34 L145.46,142.00 L145.83,141.67 L146.21,141.32 L146.58,140.97 L146.96,140.62 L147.33,140.26 L147.71,139.90 L148.09,139.53 L148.46,139.16 L148.84,138.78 L149.21,138.39 L149.59,138.00 L149.96,137.61 L150.34,137.20 L150.72,136.79 L151.09,136.38 L151.47,135.96 L151.84,135.53 L152.22,135.10 L152.60,134.66 L152.97,134.22 L153.35,133.76 L153.72,133.30 L154.10,132.84 L154.47,132.36 L154.85,131.88 L155.23,131.39 L155.60,130.89 L155.98,130.39 L156.35,129.87 L156.73,129.35 L157.10,128.82 L157.48,128.27 L157.86,127.72 L158.23,127.16 L158.61,126.58 L158.98,126.00 L159.36,125.40 L159.73,124.79 L160.11,124.17 L160.49,123.54 L160.86,122.89 L161.24,122.23 L161.61,121.55 L161.99,120.87 L162.36,120.16 L162.74,119.44 L163.12,118.71 L163.49,117.96 L163.87,117.19 L164.24,116.41 L164.62,115.60 L164.99,114.78 L165.37,113.94 L165.75,113.09 L166.12,112.21 L166.50,111.31 L166.87,110.38 L167.25,109.44 L167.63,108.47 L168.00,107.48 L168.38,106.47 L168.75,105.43 L169.13,104.37 L169.50,103.27 L169.88,102.16 L170.26,101.01 L170.63,99.83 L171.01,98.63 L171.38,97.39 L171.76,96.12 L172.13,94.82 L172.51,93.48 L172.89,92.11 L173.26,90.70 L173.64,89.26 L174.01,87.78 L174.39,86.28 L174.76,84.75 L175.14,83.19 L175.52,81.61 L175.89,80.01 L176.27,78.40 L176.64,76.77 L177.02,75.14 L177.39,73.50 L177.77,71.86 L178.15,70.22 L178.52,68.59 L178.90,66.98 L179.27,65.38 L179.65,63.80 L180.03,62.25 L180.40,60.73 L180.78,59.25 L181.15,57.81 L181.53,56.42 L181.90,55.08 L182.28,53.80 L182.66,52.59 L183.03,51.45 L183.41,50.38 L183.78,49.40 L184.16,48.51 L184.53,47.72 L184.91,47.06 L185.29,46.55 L185.66,46.24 L186.04,46.15 L186.41,46.32 L186.79,46.76 L187.16,47.51 L187.54,48.60 L187.92,50.04 L188.29,51.86 L188.67,54.06 L189.04,56.65 L189.42,59.62 L189.79,62.92 L190.17,66.55 L190.55,70.47 L190.92,74.64 L191.30,79.04 L191.67,83.60 L192.05,88.30 L192.42,93.07 L192.80,97.88 L193.18,102.71 L193.55,107.50 L193.93,112.24 L194.30,116.90 L194.68,121.46 L195.06,125.89 L195.43,130.18 L195.81,134.33 L196.18,138.32 L196.56,142.16 L196.93,145.84 L197.31,149.37 L197.69,152.75 L198.06,155.98 L198.44,159.06 L198.81,161.99 L199.19,164.79 L199.56,167.45 L199.94,169.97 L200.32,172.37 L200.69,174.64 L201.07,176.79 L201.44,178.82 L201.82,180.75 L202.19,182.56 L202.57,184.28 L202.95,185.89 L203.32,187.42 L203.70,188.85 L204.07,190.20 L204.45,191.47 L204.82,192.66 L205.20,193.78 L205.58,194.84 L205.95,195.82 L206.33,196.75 L206.70,197.62 L207.08,198.44 L207.45,199.20 L207.83,199.92 L208.21,200.59 L208.58,201.22 L208.96,201.80 L209.33,202.35 L209.71,202.87 L210.09,203.35 L210.46,203.80 L210.84,204.22 L211.21,204.62 L211.59,204.98 L211.96,205.33 L212.34,205.65 L212.72,205.95 L213.09,206.23 L213.47,206.50 L213.84,206.74 L214.22,206.97 L214.59,207.19 L214.97,207.39 L215.35,207.57 L215.72,207.75 L216.10,207.91 L216.47,208.06 L216.85,208.20 L217.22,208.33 L217.60,208.46 L217.98,208.57 L218.35,208.67 L218.73,208.77 L219.10,208.86 L219.48,208.95 L219.85,209.03 L220.23,209.10 L220.61,209.16 L220.98,209.23 L221.36,209.29 L221.73,209.35 L222.11,209.41 L222.48,209.47 L222.86,209.52 L223.24,209.58 L223.61,209.63 L223.99,209.68 L224.36,209.73 L224.74,209.78 L225.12,209.83 L225.49,209.88 L225.87,209.92 L226.24,209.97 L226.62,210.01 L226.99,210.05 L227.37,210.10 L227.75,210.14 L228.12,210.17 L228.50,210.21 L228.87,210.25 L229.25,210.29 L229.62,210.32 L230.00,210.35 L230.38,210.39 L230.75,210.42 L231.13,210.45 L231.50,210.48 L231.88,210.51 L232.25,210.54 L232.63,210.57 L233.01,210.60 L233.38,210.63 L233.76,210.65 L234.13,210.68 L234.51,210.70 L234.88,210.73 L235.26,210.75 L235.64,210.77 L236.01,210.80 L236.39,210.82 L236.76,210.84 L237.14,210.86 L237.51,210.88 L237.89,210.90" stroke="#ff00ff"/>
<path d="M54.90,173.26 L55.28,173.11 L55.65,172.96 L56.03,172.81 L56.40,172.66 L56.78,172.51 L57.15,172.37 L57.53,172.22 L57.91,172.07 L58.28,171.92 L58.66,171.77 L59.03,171.62 L59.41,171.47 L59.78,171.33 L60.16,171.18 L60.54,171.03 L60.91,170.88 L61.29,170.73 L61.66,170.58 L62.04,170.44 L62.42,170.29 L62.79,170.14 L63.17,169.99 L63.54,169.84 L63.92,169.69 L64.29,169.54 L64.67,169.39 L65.05,169.24 L65.42,169.09 L65.80,168.93 L66.17,168.78 L66.55,168.63 L66.92,168.48 L67.30,168.32 L67.68,168.17 L68.05,168.01 L68.43,167.86 L68.80,167.70 L69.18,167.54 L69.55,167.39 L69.93,167.23 L70.31,167.07 L70.68,166.91 L71.06,166.75 L71.43,166.59 L71.81,166.42 L72.18,166.26 L72.56,166.09 L72.94,165.93 L73.31,165.76 L73.69,165.59 L74.06,165.42 L74.44,165.25 L74.81,165.08 L75.19,164.91 L75.57,164.73 L75.94,164.56 L76.32,164.38 L76.69,164.20 L77.07,164.02 L77.45,163.84 L77.82,163.66 L78.20,163.47 L78.57,163.28 L78.95,163.10 L79.32,162.90 L79.70,162.71 L80.08,162.52 L80.45,162.32 L80.83,162.12 L81.20,161.92 L81.58,161.72 L81.95,161.52 L82.33,161.31 L82.71,161.10 L83.08,160.89 L83.46,160.67 L83.83,160.46 L84.21,160.24 L84.58,160.02 L84.96,159.79 L85.34,159.57 L85.71,159.34 L86.09,159.11 L86.46,158.87 L86.84,158.63 L87.21,158.39 L87.59,158.15 L87.97,157.90 L88.34,157.65 L88.72,157.39 L89.09,157.14 L89.47,156.88 L89.84,156.61 L90.22,156.34 L90.60,156.07 L90.97,155.80 L91.35,155.52 L91.72,155.24 L92.10,154.95 L92.48,154.66 L92.85,154.36 L93.23,154.06 L93.60,153.76 L93.98,153.45 L94.35,153.14 L94.73,152.82 L95.11,152.50 L95.48,152.17 L95.86,151.84 L96.23,151.50 L96.61,151.16 L96.98,150.81 L97.36,150.46 L97.74,150.10 L98.11,149.74 L98.49,149.37 L98.86,148.99 L99.24,148.61 L99.61,148.22 L99.99,147.83 L100.37,147.43 L100.74,147.02 L101.12,146.61 L101.49,146.19 L101.87,145.76 L102.24,145.33 L102.62,144.89 L103.00,144.44 L103.37,143.98 L103.75,143.52 L104.12,143.05 L104.50,142.57 L104.87,142.08 L105.25,141.59 L105.63,141.08 L106.00,140.57 L106.38,140.05 L106.75,139.52 L107.13,138.98 L107.51,138.42 L107.88,137.86 L108.26,137.28 L108.63,136.68 L109.01,136.08 L109.38,135.45 L109.76,134.81 L110.14,134.15 L110.51,133.47 L110.89,132.77 L111.26,132.04 L111.64,131.30 L112.01,130.52 L112.39,129.73 L112.77,128.90 L113.14,128.05 L113.52,127.16 L113.89,126.25 L114.27,125.30 L114.64,124.31 L115.02,123.29 L115.40,122.23 L115.77,121.12 L116.15,119.98 L116.52,118.79 L116.90,117.55 L117.27,116.26 L117.65,114.91 L118.03,113.51 L118.40,112.06 L118.78,110.54 L119.15,108.96 L119.53,107.31 L119.90,105.60 L120.28,103.84 L120.66,102.03 L121.03,100.18 L121.41,98.30 L121.78,96.38 L122.16,94.44 L122.54,92.49 L122.91,90.53 L123.29,88.58 L123.66,86.65 L124.04,84.73 L124.41,82.86 L124.79,81.03 L125.17,79.25 L125.54,77.55 L125.92,75.93 L126.29,74.41 L126.67,72.99 L127.04,71.70 L127.42,70.54 L127.80,69.53 L128.17,68.70 L128.55,68.08 L128.92,67.70 L129.30,67.60 L129.67,67.80 L130.05,68.35 L130.43,69.29 L130.80,70.73 L131.18,72.72 L131.55,75.35 L131.93,78.65 L132.30,82.58 L132.68,87.04 L133.06,91.92 L133.43,97.11 L133.81,102.52 L134.18,108.05 L134.56,113.63 L134.93,119.18 L135.31,124.65 L135.69,129.98 L136.06,135.17 L136.44,140.19 L136.81,145.01 L137.19,149.64 L137.57,154.05 L137.94,158.24 L138.32,162.21 L138.69,165.95 L139.07,169.47 L139.44,172.78 L139.82,175.86 L140.20,178.74 L140.57,181.42 L140.95,183.90 L141.32,186.20 L141.70,188.33 L142.07,190.29 L142.45,192.09 L142.83,193.75 L143.20,195.27 L143.58,196.66 L143.95,197.94 L144.33,199.10 L144.70,200.17 L145.08,201.14 L145.46,202.02 L145.83,202.83 L146.21,203.56 L146.58,204.23 L146.96,204.83 L147.33,205.38 L147.71,205.88 L148.09,206.33 L148.46,206.74 L148.84,207.12 L149.21,207.46 L149.59,207.76 L149.96,208.04 L150.34,208.29 L150.72,208.52 L151.09,208.73 L151.47,208.92 L151.84,209.08 L152.22,209.24 L152.60,209.38 L152.97,209.51 L153.35,209.63 L153.72,209.75 L154.10,209.86 L154.47,209.96 L154.85,210.06 L155.23,210.15 L155.60,210.24 L155.98,210.32 L156.35,210.40 L156.73,210.47 L157.10,210.54 L157.48,210.60 L157.86,210.67 L158.23,210.72 L158.61,210.78 L158.98,210.83 L159.36,210.87 L159.73,210.92 L160.11,210.96 L160.49,211.00 L160.86,211.04 L161.24,211.07 L161.61,211.11 L161.99,211.14 L162.36,211.17 L162.74,211.20 L163.12,211.22 L163.49,211.25 L163.87,211.27 L164.24,211.29 L164.62,211.31 L164.99,211.33 L165.37,211.35 L165.75,211.37 L166.12,211.39 L166.50,211.40 L166.87,211.42 L167.25,211.43 L167.63,211.44 L168.00,211.45 L168.38,211.47 L168.75,211.48 L169.13,211.49 L169.50,211.50 L169.88,211.50 L170.26,211.51 L170.63,211.52 L171.01,211.53 L171.38,211.54 L171.76,211.54 L172.13,211.55 L172.51,211.55 L172.89,211.56 L173.26,211.56 L173.64,211.57 L174.01,211.57 L174.39,211.58 L174.76,211.58 L175.14,211.59 L175.52,211.59 L175.89,211.59 L176.27,211.60 L176.64,211.60 L177.02,211.60 L177.39,211.61 L177.77,211.61 L178.15,211.61 L178.52,211.61 L178.90,211.62 L179.27,211.62 L179.65,211.62 L180.03,211.62 L180.40,211.62 L180.78,211.62 L181.15,211.63 L181.53,211.63 L181.90,211.63 L182.28,211.63 L182.66,211.63 L183.03,211.63 L183.41,211.63 L183.78,211.63 L184.16,211.63 L184.53,211.64 L184.91,211.64 L185.29,211.64 L185.66,211.64 L186.04,211.64 L186.41,211.64 L186.79,211.64 L187.16,211.64 L187.54,211.64 L187.92,211.64 L188.29,211.64 L188.67,211.64 L189.04,211.64 L189.42,211.64 L189.79,211.64 L190.17,211.64 L190.55,211.64 L190.92,211.64 L191.30,211.65 L191.67,211.65 L192.05,211.65 L192.42,211.65 L192.80,211.65 L193.18,211.65 L193.55,211.65 L193.93,211.65 L194.30,211.65 L194.68,211.65 L195.06,211.65 L195.43,211.65 L195.81,211.65 L196.18,211.65 L196.56,211.65 L196.93,211.65 L197.31,211.65 L197.69,211.65 L198.06,211.65 L198.44,211.65 L198.81,211.65 L199.19,211.65 L199.56,211.65 L199.94,211.65 L200.32,211.65 L200.69,211.65 L201.07,211.65 L201.44,211.65 L201.82,211.65 L202.19,211.65 L202.57,211.65 L202.95,211.65 L203.32,211.65 L203.70,211.65 L204.07,211.65 L204.45,211.65 L204.82,211.65 L205.20,211.65 L205.58,211.65 L205.95,211.65 L206.33,211.65 L206.70,211.65 L207.08,211.65 L207.45,211.65 L207.83,211.65 L208.21,211.65 L208.58,211.65 L208.96,211.65 L209.33,211.65 L209.71,211.65 L210.09,211.65 L210.46,211.65 L210.84,211.65 L211.21,211.65 L211.59,211.65 L211.96,211.65 L212.34,211.65 L212.72,211.65 L213.09,211.65 L213.47,211.65 L213.84,211.65 L214.22,211.65 L214.59,211.65 L214.97,211.65 L215.35,211.65 L215.72,211.65 L216.10,211.65 L216.47,211.65 L216.85,211.65 L217.22,211.65 L217.60,211.65 L217.98,211.65 L218.35,211.65 L218.73,211.65 L219.10,211.65 L219.48,211.65 L219.85,211.65 L220.23,211.65 L220.61,211.65 L220.98,211.65 L221.36,211.65 L221.73,211.65 L222.11,211.65 L222.48,211.65 L222.86,211.65 L223.24,211.65 L223.61,211.65 L223.99,211.65 L224.36,211.65 L224.74,211.65 L225.12,211.65 L225.49,211.65 L225.87,211.65 L226.24,211.65 L226.62,211.65 L226.99,211.65 L227.37,211.65 L227.75,211.65 L228.12,211.65 L228.50,211.65 L228.87,211.65 L229.25,211.65 L229.62,211.65 L230.00,211.65 L230.38,211.65 L230.75,211.65 L231.13,211.65 L231.50,211.65 L231.88,211.65 L232.25,211.65 L232.63,211.65 L233.01,211.65 L233.38,211.65 L233.76,211.65 L234.13,211.65 L234.51,211.65 L234.88,211.65 L235.26,211.65 L235.64,211.65 L236.01,211.65 L236.39,211.65 L236.76,211.65 L237.14,211.65 L237.51,211.65 L237.89,211.65 L238.27,211.65 L238.64,211.65 L239.02,211.65 L239.39,211.65 L239.77,211.65 L240.15,211.65 L240.52,211.65 L240.90,211.65 L241.27,211.65 L241.65,211.65 L242.02,211.65 L242.40,211.65 L242.78,211.65 L243.15,211.65 L243.53,211.65 L243.90,211.65 L244.28,211.65 L244.65,211.65 L245.03,211.65 L245.41,211.65 L245.78,211.65 L246.16,211.65 L246.53,211.65 L246.91,211.65 L247.28,211.65 L247.66,211.65 L248.04,211.65 L248.41,211.65 L248.79,211.65 L249.16,211.65 L249.54,211.65 L249.91,211.65 L250.29,211.65 L250.67,211.65 L251.04,211.65 L251.42,211.65 L251.79,211.65 L252.17,211.65 L252.54,211.65 L252.92,211.65 L253.30,211.65 L253.67,211.65 L254.05,211.65 L254.42,211.65 L254.80,211.65 L255.18,211.65 L255.55,211.65 L255.93,211.65 L256.30,211.65 L256.68,211.65 L257.05,211.65 L257.43,211.65 L257.81,211.65 L258.18,211.65 L258.56,211.65 L258.93,211.65 L259.31,211.65 L259.68,211.65 L260.06,211.65 L260.44,211.65 L260.81,211.65 L261.19,211.65 L261.56,211.65 L261.94,211.65 L262.31,211.65 L262.69,211.65 L263.07,211.65 L263.44,211.65 L263.82,211.65 L264.19,211.65 L264.57,211.65 L264.94,211.65 L265.32,211.65 L265.70,211.65 L266.07,211.65 L266.45,211.65 L266.82,211.65 L267.20,211.65 L267.57,211.65 L267.95,211.65 L268.33,211.65 L268.70,211.65 L269.08,211.65 L269.45,211.65 L269.83,211.65 L270.21,211.65 L270.58,211.65 L270.96,211.65 L271.33,211.65 L271.71,211.65 L272.08,211.65 L272.46,211.65 L272.84,211.65 L273.21,211.65 L273.59,211.65 L273.96,211.65 L274.34,211.65 L274.71,211.65 L275.09,211.65 L275.47,211.65 L275.84,211.65 L276.22,211.65 L276.59,211.65 L276.97,211.65 L277.34,211.65 L277.72,211.65 L278.10,211.65 L278.47,211.65 L278.85,211.65 L279.22,211.65 L279.60,211.65 L279.97,211.65 L280.35,211.65 L280.73,211.65 L281.10,211.65 L281.48,211.65 L281.85,211.65 L282.23,211.65 L282.61,211.65 L282.98,211.65 L283.36,211.65 L283.73,211.65 L284.11,211.65 L284.48,211.65 L284.86,211.65 L285.24,211.65 L285.61,211.65 L285.99,211.65 L286.36,211.65 L286.74,211.65 L287.11,211.65 L287.49,211.65 L287.87,211.65 L288.24,211.65 L288.62,211.65 L288.99,211.65 L289.37,211.65 L289.74,211.65 L290.12,211.65 L290.50,211.65 L290.87,211.65 L291.25,211.65 L291.62,211.65 L292.00,211.65 L292.37,211.65 L292.75,211.65 L293.13,211.65 L293.50,211.65 L293.88,211.65 L294.25,211.65 L294.63,211.65 L295.00,211.65 L295.38,211.65 L295.76,211.65 L296.13,211.65 L296.51,211.65 L296.88,211.65 L297.26,211.65 L297.64,211.65 L298.01,211.65 L298.39,211.65 L298.76,211.65 L299.14,211.65 L299.51,211.65 L299.89,211.65 L300.27,211.65 L300.64,211.65 L301.02,211.65 L301.39,211.65 L301.77,211.65 L302.14,211.65 L302.52,211.65 L302.90,211.65 L303.27,211.65 L303.65,211.65 L304.02,211.65 L304.40,211.65 L304.77,211.65 L305.15,211.65 L305.53,211.65 L305.90,211.65 L306.28,211.65 L306.65,211.65 L307.03,211.65 L307.40,211.65 L307.78,211.65 L308.16,211.65 L308.53,211.65 L308.91,211.65 L309.28,211.65 L309.66,211.65 L310.03,211.65 L310.41,211.65 L310.79,211.65 L311.16,211.65 L311.54,211.65 L311.91,211.65 L312.29,211.65 L312.67,211.65 L313.04,211.65 L313.42,211.65 L313.79,211.65 L314.17,211.65 L314.54,211.65 L314.92,211.65 L315.30,211.65 L315.67,211.65 L316.05,211.65 L316.42,211.65 L316.80,211.65 L317.17,211.65 L317.55,211.65 L317.93,211.65 L318.30,211.65 L318.68,211.65 L319.05,211.65 L319.43,211.65 L319.80,211.65 L320.18,211.65 L320.56,211.65 L320.93,211.65 L321.31,211.65 L321.68,211.65 L322.06,211.65 L322.43,211.65 L322.81,211.65 L323.19,211.65 L323.56,211.65 L323.94,211.65 L324.31,211.65 L324.69,211.65 L325.06,211.65 L325.44,211.65 L325.82,211.65 L326.19,211.65 L326.57,211.65 L326.94,211.65 L327.32,211.65 L327.70,211.65 L328.07,211.65 L328.45,211.65 L328.82,211.65 L329.20,211.65 L329.57,211.65 L329.95,211.65 L330.33,211.65 L330.70,211.65 L331.08,211.65 L331.45,211.65 L331.83,211.65 L332.20,211.65 L332.58,211.65 L332.96,211.65 L333.33,211.65 L333.71,211.65 L334.08,211.65 L334.46,211.65 L334.83,211.65 L335.21,211.65 L335.59,211.65 L335.96,211.65 L336.34,211.65 L336.71,211.65 L337.09,211.65 L337.46,211.65 L337.84,211.65 L338.22,211.65 L338.59,211.65 L338.97,211.65 L339.34,211.65 L339.72,211.65 L340.09,211.65 L340.47,211.65 L340.85,211.65 L341.22,211.65 L341.60,211.65 L341.97,211.65 L342.35,211.65 L342.73,211.65 L343.10,211.65 L343.48,211.65 L343.85,211.65 L344.23,211.65 L344.60,211.65 L344.98,211.65 L345.36,211.65 L345.73,211.65 L346.11,211.65 L346.48,211.65 L346.86,211.65 L347.23,211.65 L347.61,211.65 L347.99,211.65 L348.36,211.65 L348.74,211.65 L349.11,211.65 L349.49,211.65 L349.86,211.65 L350.24,211.65 L350.62,211.65 L350.99,211.65 L351.37,211.65 L351.74,211.65 L352.12,211.65 L352.49,211.65 L352.87,211.65 L353.25,211.65 L353.62,211.65 L354.00,211.65 L354.37,211.65 L354.75,211.65 L355.12,211.65 L355.50,211.65 L355.88,211.65 L356.25,211.65 L356.63,211.65 L357.00,211.65 L357.38,211.65 L357.76,211.65 L358.13,211.65 L358.51,211.65 L358.88,211.65 L359.26,211.65 L359.63,211.65 L360.01,211.65 L360.39,211.65 L360.76,211.65 L361.14,211.65 L361.51,211.65 L361.89,211.65 L362.26,211.65 L362.64,211.65 L363.02,211.65 L363.39,211.65 L363.77,211.65 L364.14,211.65 L364.52,211.65 L364.89,211.65 L365.27,211.65 L365.65,211.65 L366.02,211.65 L366.40,211.65 L366.77,211.65 L367.15,211.65 L367.52,211.65 L367.90,211.65 L368.28,211.65 L368.65,211.65 L369.03,211.65 L369.40,211.65 L369.78,211.65 L370.15,211.65 L370.53,211.65 L370.91,211.65 L371.28,211.65 L371.66,211.65 L372.03,211.65 L372.41,211.65 L372.79,211.65 L373.16,211.65 L373.54,211.65 L373.91,211.65 L374.29,211.65 L374.66,211.65 L375.04,211.65 L375.42,211.65 L375.79,211.65 L376.17,211.65 L376.54,211.65 L376.92,211.65 L377.29,211.65 L377.67,211.65 L378.05,211.65 L378.42,211.65 L378.80,211.65 L379.17,211.65 L379.55,211.65 L379.92,211.65 L380.30,211.65 L380.68,211.65 L381.05,211.65 L381.43,211.65 L381.80,211.65 L382.18,211.65 L382.55,211.65 L382.93,211.65 L383.31,211.65 L383.68,211.65 L384.06,211.65 L384.43,211.65 L384.81,211.65 L385.18,211.65 L385.56,211.65 L385.94,211.65 L386.31,211.65 L386.69,211.65 L387.06,211.65 L387.44,211.65 L387.82,211.65 L388.19,211.65 L388.57,211.65 L388.94,211.65 L389.32,211.65 L389.69,211.65 L390.07,211.65 L390.45,211.65 L390.82,211.65 L391.20,211.65 L391.57,211.65 L391.95,211.65 L392.32,211.65 L392.70,211.65" stroke="#00ffff"/>
</g>
<g fill="none" stroke-width="2.1" stroke-linejoin="round" stroke-linecap="butt">
<path d="M638.19,215.85 L638.57,215.85 L638.95,215.85 L639.33,215.85 L639.71,215.85 L640.09,215.85 L640.46,215.85 L640.84,215.85 L641.22,215.85 L641.60,215.85 L641.98,215.85 L642.36,215.85 L642.74,215.85 L643.12,215.85 L643.49,215.85 L643.87,215.85 L644.25,215.85 L644.63,215.85 L645.01,215.85 L645.39,215.85 L645.77,215.85 L646.15,215.85 L646.52,215.85 L646.90,215.85 L647.28,215.85 L647.66,215.85 L648.04,215.85 L648.42,215.85 L648.80,215.85 L649.18,215.85 L649.55,215.85 L649.93,215.85 L650.31,215.85 L650.69,215.85 L651.07,215.85 L651.45,215.85 L651.83,215.85 L652.21,215.85 L652.58,215.85 L652.96,215.85 L653.34,215.85 L653.72,215.85 L654.10,215.85 L654.48,215.85 L654.86,215.85 L655.24,215.85 L655.61,215.85 L655.99,215.85 L656.37,215.85 L656.75,215.85 L657.13,215.85 L657.51,215.85 L657.89,215.85 L658.27,215.85 L658.64,215.85 L659.02,215.85 L659.40,215.85 L659.78,215.85 L660.16,215.85 L660.54,215.85 L660.92,215.85 L661.30,215.85 L661.67,215.85 L662.05,215.85 L662.43,215.85 L662.81,215.85 L663.19,215.85 L663.57,215.85 L663.95,215.85 L664.33,215.85 L664.70,215.85 L665.08,215.85 L665.46,215.85 L665.84,215.85 L666.22,215.85 L666.60,215.85 L666.98,215.85 L667.36,215.85 L667.73,215.85 L668.11,215.85 L668.49,215.85 L668.87,215.85 L669.25,215.85 L669.63,215.85 L670.01,215.85 L670.39,215.85 L670.76,215.85 L671.14,215.85 L671.52,215.85 L671.90,215.85 L672.28,215.85 L672.66,215.85 L673.04,215.85 L673.42,215.85 L673.79,215.85 L674.17,215.85 L674.55,215.85 L674.93,215.84 L675.31,215.84 L675.69,215.84 L676.07,215.84 L676.45,215.84 L676.83,215.84 L677.20,215.84 L677.58,215.84 L677.96,215.84 L678.34,215.84 L678.72,215.84 L679.10,215.84 L679.48,215.84 L679.86,215.84 L680.23,215.84 L680.61,215.83 L680.99,215.83 L681.37,215.83 L681.75,215.83 L682.13,215.83 L682.51,215.83 L682.89,215.83 L683.26,215.82 L683.64,215.82 L684.02,215.82 L684.40,215.82 L684.78,215.81 L685.16,215.81 L685.54,215.81 L685.92,215.80 L686.29,215.80 L686.67,215.80 L687.05,215.79 L687.43,215.79 L687.81,215.78 L688.19,215.78 L688.57,215.77 L688.95,215.77 L689.32,215.76 L689.70,215.75 L690.08,215.75 L690.46,215.74 L690.84,215.73 L691.22,215.72 L691.60,215.71 L691.98,215.70 L692.35,215.69 L692.73,215.67 L693.11,215.66 L693.49,215.64 L693.87,215.63 L694.25,215.61 L694.63,215.59 L695.01,215.57 L695.38,215.55 L695.76,215.52 L696.14,215.50 L696.52,215.47 L696.90,215.44 L697.28,215.41 L697.66,215.37 L698.04,215.34 L698.41,215.30 L698.79,215.25 L699.17,215.21 L699.55,215.16 L699.93,215.10 L700.31,215.05 L700.69,215.03 L701.07,215.01 L701.44,214.99 L701.82,214.97 L702.20,214.94 L702.58,214.92 L702.96,214.89 L703.34,214.87 L703.72,214.84 L704.10,214.82 L704.47,214.79 L704.85,214.76 L705.23,214.74 L705.61,214.71 L705.99,214.68 L706.37,214.65 L706.75,214.62 L707.13,214.59 L707.50,214.56 L707.88,214.53 L708.26,214.49 L708.64,214.46 L709.02,214.42 L709.40,214.39 L709.78,214.35 L710.16,214.31 L710.53,214.28 L710.91,214.24 L711.29,214.20 L711.67,214.15 L712.05,214.11 L712.43,214.07 L712.81,214.02 L713.19,213.98 L713.56,213.93 L713.94,213.88 L714.32,213.83 L714.70,213.78 L715.08,213.73 L715.46,213.67 L715.84,213.61 L716.22,213.55 L716.59,213.49 L716.97,213.43 L717.35,213.37 L717.73,213.30 L718.11,213.23 L718.49,213.16 L718.87,213.09 L719.25,213.01 L719.62,212.93 L720.00,212.85 L720.38,212.77 L720.76,212.68 L721.14,212.59 L721.52,212.49 L721.90,212.40 L722.28,212.29 L722.65,212.19 L723.03,212.08 L723.41,211.97 L723.79,211.85 L724.17,211.72 L724.55,211.60 L724.93,211.46 L725.31,211.32 L725.68,211.18 L726.06,211.03 L726.44,210.87 L726.82,210.70 L727.20,210.53 L727.58,210.35 L727.96,210.16 L728.34,209.97 L728.71,209.76 L729.09,209.55 L729.47,209.32 L729.85,209.09 L730.23,208.84 L730.61,208.58 L730.99,208.31 L731.37,208.02 L731.74,207.72 L732.12,207.40 L732.50,207.07 L732.88,206.72 L733.26,206.36 L733.64,205.97 L734.02,205.56 L734.40,205.13 L734.77,204.68 L735.15,204.20 L735.53,203.70 L735.91,203.16 L736.29,202.60 L736.67,202.01 L737.05,201.39 L737.43,200.74 L737.80,200.05 L738.18,199.32 L738.56,198.56 L738.94,197.76 L739.32,196.92 L739.70,196.03 L740.08,195.11 L740.46,194.14 L740.83,193.12 L741.21,192.05 L741.59,190.94 L741.97,189.77 L742.35,188.55 L742.73,187.28 L743.11,185.95 L743.49,184.57 L743.86,183.13 L744.24,181.62 L744.62,180.07 L745.00,178.45 L745.38,176.77 L745.76,175.02 L746.14,173.22 L746.52,171.36 L746.89,169.43 L747.27,167.45 L747.65,165.41 L748.03,163.31 L748.41,161.15 L748.79,158.94 L749.17,156.67 L749.55,154.36 L749.92,152.00 L750.30,149.60 L750.68,147.16 L751.06,144.69 L751.44,142.19 L751.82,139.66 L752.20,137.12 L752.58,134.57 L752.95,132.00 L753.33,129.43 L753.71,126.87 L754.09,124.30 L754.47,121.75 L754.85,119.21 L755.23,116.68 L755.61,114.18 L755.98,111.70 L756.36,109.26 L756.74,106.85 L757.12,104.48 L757.50,102.15 L757.88,99.87 L758.26,97.65 L758.64,95.49 L759.01,93.38 L759.39,91.35 L759.77,89.38 L760.15,87.49 L760.53,85.68 L760.91,83.94 L761.29,82.30 L761.67,80.74 L762.04,79.27 L762.42,77.90 L762.80,76.62 L763.18,75.45 L763.56,74.37 L763.94,73.40 L764.32,72.53 L764.70,71.77 L765.07,71.12 L765.45,70.58 L765.83,70.15 L766.21,69.82 L766.59,69.61 L766.97,69.51 L767.35,69.51 L767.73,69.62 L768.10,69.83 L768.48,70.12 L768.86,70.51 L769.24,70.97 L769.62,71.51 L770.00,72.12 L770.38,72.79 L770.76,73.51 L771.13,74.29 L771.51,75.12 L771.89,75.99 L772.27,76.89 L772.65,77.82 L773.03,78.78 L773.41,79.75 L773.79,80.74 L774.16,81.74 L774.54,82.74 L774.92,83.74 L775.30,84.74 L775.68,85.73 L776.06,86.72 L776.44,87.71 L776.82,88.69 L777.19,89.67 L777.57,90.64 L777.95,91.61 L778.33,92.57 L778.71,93.52 L779.09,94.47 L779.47,95.42 L779.85,96.35 L780.22,97.28 L780.60,98.20 L780.98,99.12 L781.36,100.02 L781.74,100.92 L782.12,101.81 L782.50,102.69 L782.88,103.57 L783.25,104.43 L783.63,105.29 L784.01,106.13 L784.39,106.97 L784.77,107.80 L785.15,108.61 L785.53,109.42 L785.91,110.22 L786.28,111.01 L786.66,111.78 L787.04,112.55 L787.42,113.31 L787.80,114.06" stroke="#ff0000"/>
<path d="M588.20,215.85 L588.58,215.85 L588.95,215.85 L589.33,215.85 L589.71,215.85 L590.09,215.85 L590.47,215.85 L590.85,215.85 L591.23,215.85 L591.61,215.85 L591.98,215.85 L592.36,215.85 L592.74,215.85 L593.12,215.85 L593.50,215.85 L593.88,215.85 L594.26,215.85 L594.64,215.85 L595.01,215.85 L595.39,215.85 L595.77,215.85 L596.15,215.85 L596.53,215.85 L596.91,215.85 L597.29,215.85 L597.67,215.85 L598.04,215.85 L598.42,215.85 L598.80,215.85 L599.18,215.85 L599.56,215.85 L599.94,215.85 L600.32,215.85 L600.70,215.85 L601.07,215.85 L601.45,215.85 L601.83,215.85 L602.21,215.85 L602.59,215.85 L602.97,215.85 L603.35,215.85 L603.73,215.85 L604.10,215.85 L604.48,215.85 L604.86,215.85 L605.24,215.85 L605.62,215.85 L606.00,215.85 L606.38,215.85 L606.76,215.85 L607.13,215.85 L607.51,215.85 L607.89,215.85 L608.27,215.85 L608.65,215.85 L609.03,215.85 L609.41,215.85 L609.79,215.85 L610.16,215.85 L610.54,215.85 L610.92,215.85 L611.30,215.85 L611.68,215.85 L612.06,215.85 L612.44,215.85 L612.82,215.85 L613.19,215.85 L613.57,215.85 L613.95,215.85 L614.33,215.85 L614.71,215.85 L615.09,215.85 L615.47,215.85 L615.85,215.85 L616.22,215.85 L616.60,215.85 L616.98,215.85 L617.36,215.85 L617.74,215.85 L618.12,215.85 L618.50,215.85 L618.88,215.85 L619.25,215.85 L619.63,215.85 L620.01,215.85 L620.39,215.85 L620.77,215.85 L621.15,215.85 L621.53,215.85 L621.91,215.85 L622.28,215.85 L622.66,215.85 L623.04,215.85 L623.42,215.85 L623.80,215.85 L624.18,215.85 L624.56,215.85 L624.94,215.85 L625.31,215.84 L625.69,215.84 L626.07,215.84 L626.45,215.84 L626.83,215.84 L627.21,215.84 L627.59,215.84 L627.97,215.84 L628.34,215.84 L628.72,215.84 L629.10,215.84 L629.48,215.84 L629.86,215.84 L630.24,215.84 L630.62,215.83 L631.00,215.83 L631.37,215.83 L631.75,215.83 L632.13,215.83 L632.51,215.83 L632.89,215.83 L633.27,215.82 L633.65,215.82 L634.03,215.82 L634.40,215.82 L634.78,215.81 L635.16,215.81 L635.54,215.81 L635.92,215.81 L636.30,215.80 L636.68,215.80 L637.06,215.79 L637.43,215.79 L637.81,215.79 L638.19,215.78 L638.57,215.77 L638.95,215.77 L639.33,215.76 L639.71,215.76 L640.09,215.75 L640.46,215.74 L640.84,215.73 L641.22,215.72 L641.60,215.71 L641.98,215.70 L642.36,215.69 L642.74,215.68 L643.12,215.66 L643.49,215.65 L643.87,215.63 L644.25,215.62 L644.63,215.60 L645.01,215.58 L645.39,215.56 L645.77,215.53 L646.15,215.51 L646.52,215.48 L646.90,215.45 L647.28,215.42 L647.66,215.39 L648.04,215.35 L648.42,215.31 L648.80,215.27 L649.18,215.22 L649.55,215.17 L649.93,215.12 L650.31,215.07 L650.69,215.04 L651.07,215.02 L651.45,214.99 L651.83,214.96 L652.21,214.92 L652.58,214.89 L652.96,214.86 L653.34,214.82 L653.72,214.79 L654.10,214.75 L654.48,214.71 L654.86,214.67 L655.24,214.63 L655.61,214.58 L655.99,214.54 L656.37,214.49 L656.75,214.44 L657.13,214.39 L657.51,214.33 L657.89,214.28 L658.27,214.22 L658.64,214.16 L659.02,214.10 L659.40,214.03 L659.78,213.97 L660.16,213.89 L660.54,213.82 L660.92,213.75 L661.30,213.67 L661.67,213.58 L662.05,213.50 L662.43,213.41 L662.81,213.32 L663.19,213.22 L663.57,213.12 L663.95,213.02 L664.33,212.91 L664.70,212.80 L665.08,212.68 L665.46,212.55 L665.84,212.43 L666.22,212.29 L666.60,212.16 L666.98,212.01 L667.36,211.86 L667.73,211.71 L668.11,211.54 L668.49,211.37 L668.87,211.20 L669.25,211.01 L669.63,210.82 L670.01,210.62 L670.39,210.41 L670.76,210.19 L671.14,209.97 L671.52,209.73 L671.90,209.49 L672.28,209.23 L672.66,208.96 L673.04,208.68 L673.42,208.39 L673.79,208.09 L674.17,207.77 L674.55,207.44 L674.93,207.09 L675.31,206.73 L675.69,206.36 L676.07,205.97 L676.45,205.56 L676.83,205.13 L677.20,204.69 L677.58,204.22 L677.96,203.73 L678.34,203.23 L678.72,202.70 L679.10,202.15 L679.48,201.57 L679.86,200.96 L680.23,200.33 L680.61,199.68 L680.99,198.99 L681.37,198.27 L681.75,197.52 L682.13,196.74 L682.51,195.92 L682.89,195.06 L683.26,194.16 L683.64,193.23 L684.02,192.25 L684.40,191.23 L684.78,190.16 L685.16,189.04 L685.54,187.87 L685.92,186.65 L686.29,185.37 L686.67,184.03 L687.05,182.63 L687.43,181.16 L687.81,179.63 L688.19,178.03 L688.57,176.35 L688.95,174.60 L689.32,172.77 L689.70,170.86 L690.08,168.87 L690.46,166.80 L690.84,164.65 L691.22,162.41 L691.60,160.09 L691.98,157.69 L692.35,155.21 L692.73,152.65 L693.11,150.01 L693.49,147.29 L693.87,144.49 L694.25,141.63 L694.63,138.70 L695.01,135.70 L695.38,132.64 L695.76,129.54 L696.14,126.39 L696.52,123.20 L696.90,119.98 L697.28,116.73 L697.66,113.48 L698.04,110.23 L698.41,106.99 L698.79,103.77 L699.17,100.58 L699.55,97.45 L699.93,94.37 L700.31,91.38 L700.69,88.47 L701.07,85.67 L701.44,82.99 L701.82,80.43 L702.20,78.01 L702.58,75.74 L702.96,73.62 L703.34,71.67 L703.72,69.90 L704.10,68.29 L704.47,66.87 L704.85,65.62 L705.23,64.55 L705.61,63.67 L705.99,62.96 L706.37,62.43 L706.75,62.07 L707.13,61.87 L707.50,61.82 L707.88,61.91 L708.26,62.13 L708.64,62.47 L709.02,62.93 L709.40,63.48 L709.78,64.12 L710.16,64.84 L710.53,65.63 L710.91,66.47 L711.29,67.36 L711.67,68.29 L712.05,69.25 L712.43,70.23 L712.81,71.25 L713.19,72.29 L713.56,73.35 L713.94,74.42 L714.32,75.51 L714.70,76.61 L715.08,77.72 L715.46,78.83 L715.84,79.94 L716.22,81.05 L716.59,82.16 L716.97,83.26 L717.35,84.36 L717.73,85.44 L718.11,86.52 L718.49,87.59 L718.87,88.65 L719.25,89.70 L719.62,90.74 L720.00,91.78 L720.38,92.80 L720.76,93.82 L721.14,94.82 L721.52,95.82 L721.90,96.80 L722.28,97.78 L722.65,98.74 L723.03,99.69 L723.41,100.64 L723.79,101.57 L724.17,102.50 L724.55,103.41 L724.93,104.31 L725.31,105.20 L725.68,106.08 L726.06,106.95 L726.44,107.80 L726.82,108.65 L727.20,109.49 L727.58,110.31 L727.96,111.12 L728.34,111.92 L728.71,112.71 L729.09,113.49 L729.47,114.26 L729.85,115.02 L730.23,115.76 L730.61,116.49 L730.99,117.21 L731.37,117.92 L731.74,118.62 L732.12,119.31 L732.50,119.98 L732.88,120.64 L733.26,121.30 L733.64,121.94 L734.02,122.57 L734.40,123.18 L734.77,123.79 L735.15,124.39 L735.53,124.98 L735.91,125.56 L736.29,126.12 L736.67,126.68 L737.05,127.23 L737.43,127.77 L737.80,128.30 L738.18,128.83 L738.56,129.34 L738.94,129.85 L739.32,130.34 L739.70,130.83 L740.08,131.31 L740.46,131.79 L740.83,132.25 L741.21,132.71 L741.59,133.16 L741.97,133.61 L742.35,134.04 L742.73,134.47 L743.11,134.90 L743.49,135.31 L743.86,135.72 L744.24,136.13 L744.62,136.52 L745.00,136.91 L745.38,137.30 L745.76,137.68 L746.14,138.05 L746.52,138.42 L746.89,138.78 L747.27,139.14 L747.65,139.49 L748.03,139.84 L748.41,140.18 L748.79,140.51 L749.17,140.84 L749.55,141.17 L749.92,141.49 L750.30,141.81 L750.68,142.12 L751.06,142.43 L751.44,142.73 L751.82,143.03 L752.20,143.33 L752.58,143.62 L752.95,143.91 L753.33,144.19 L753.71,144.47 L754.09,144.74 L754.47,145.02 L754.85,145.28 L755.23,145.55 L755.61,145.81 L755.98,146.07 L756.36,146.32 L756.74,146.57 L757.12,146.82 L757.50,147.07 L757.88,147.31 L758.26,147.55 L758.64,147.78 L759.01,148.02 L759.39,148.25 L759.77,148.48 L760.15,148.70 L760.53,148.93 L760.91,149.15 L761.29,149.36 L761.67,149.58 L762.04,149.79 L762.42,150.00 L762.80,150.21 L763.18,150.42 L763.56,150.62 L763.94,150.83 L764.32,151.03 L764.70,151.23 L765.07,151.42 L765.45,151.62 L765.83,151.81 L766.21,152.00 L766.59,152.19 L766.97,152.38 L767.35,152.57 L767.73,152.75 L768.10,152.94 L768.48,153.12 L768.86,153.30 L769.24,153.48 L769.62,153.66 L770.00,153.84 L770.38,154.01 L770.76,154.19 L771.13,154.36 L771.51,154.54 L771.89,154.71 L772.27,154.88 L772.65,155.05 L773.03,155.22 L773.41,155.39 L773.79,155.55 L774.16,155.72 L774.54,155.89 L774.92,156.05 L775.30,156.22 L775.68,156.38 L776.06,156.55 L776.44,156.71 L776.82,156.87 L777.19,157.04 L777.57,157.20 L777.95,157.36 L778.33,157.52 L778.71,157.69 L779.09,157.85 L779.47,158.01 L779.85,158.17 L780.22,158.33 L780.60,158.49 L780.98,158.65 L781.36,158.81 L781.74,158.97 L782.12,159.13 L782.50,159.29 L782.88,159.46 L783.25,159.62 L783.63,159.78 L784.01,159.94 L784.39,160.10 L784.77,160.26 L785.15,160.43 L785.53,160.59 L785.91,160.75 L786.28,160.92 L786.66,161.08 L787.04,161.24 L787.42,161.41 L787.80,161.57" stroke="#0000ff"/>
<path d="M538.20,215.85 L538.58,215.85 L538.96,215.85 L539.34,215.85 L539.72,215.85 L540.09,215.85 L540.47,215.85 L540.85,215.85 L541.23,215.85 L541.61,215.85 L541.99,215.85 L542.37,215.85 L542.75,215.85 L543.12,215.85 L543.50,215.85 L543.88,215.85 L544.26,215.85 L544.64,215.85 L545.02,215.85 L545.40,215.85 L545.78,215.85 L546.15,215.85 L546.53,215.85 L546.91,215.85 L547.29,215.85 L547.67,215.85 L548.05,215.85 L548.43,215.85 L548.81,215.85 L549.18,215.85 L549.56,215.85 L549.94,215.85 L550.32,215.85 L550.70,215.85 L551.08,215.85 L551.46,215.85 L551.84,215.85 L552.21,215.85 L552.59,215.85 L552.97,215.85 L553.35,215.85 L553.73,215.85 L554.11,215.85 L554.49,215.85 L554.87,215.85 L555.24,215.85 L555.62,215.85 L556.00,215.85 L556.38,215.85 L556.76,215.85 L557.14,215.85 L557.52,215.85 L557.90,215.85 L558.27,215.85 L558.65,215.85 L559.03,215.85 L559.41,215.85 L559.79,215.85 L560.17,215.85 L560.55,215.85 L560.93,215.85 L561.31,215.85 L561.68,215.85 L562.06,215.85 L562.44,215.85 L562.82,215.85 L563.20,215.85 L563.58,215.85 L563.96,215.85 L564.34,215.85 L564.71,215.85 L565.09,215.85 L565.47,215.85 L565.85,215.85 L566.23,215.85 L566.61,215.85 L566.99,215.85 L567.37,215.85 L567.74,215.85 L568.12,215.85 L568.50,215.85 L568.88,215.85 L569.26,215.85 L569.64,215.85 L570.02,215.85 L570.40,215.85 L570.77,215.85 L571.15,215.85 L571.53,215.85 L571.91,215.85 L572.29,215.85 L572.67,215.85 L573.05,215.85 L573.43,215.85 L573.80,215.85 L574.18,215.85 L574.56,215.85 L574.94,215.85 L575.32,215.85 L575.70,215.85 L576.08,215.85 L576.46,215.85 L576.83,215.85 L577.21,215.85 L577.59,215.85 L577.97,215.85 L578.35,215.85 L578.73,215.85 L579.11,215.85 L579.49,215.85 L579.86,215.85 L580.24,215.85 L580.62,215.84 L581.00,215.84 L581.38,215.84 L581.76,215.84 L582.14,215.84 L582.52,215.84 L582.89,215.84 L583.27,215.84 L583.65,215.84 L584.03,215.84 L584.41,215.84 L584.79,215.84 L585.17,215.83 L585.55,215.83 L585.92,215.83 L586.30,215.83 L586.68,215.83 L587.06,215.82 L587.44,215.82 L587.82,215.82 L588.20,215.82 L588.58,215.81 L588.95,215.81 L589.33,215.81 L589.71,215.80 L590.09,215.80 L590.47,215.79 L590.85,215.79 L591.23,215.78 L591.61,215.78 L591.98,215.77 L592.36,215.76 L592.74,215.75 L593.12,215.74 L593.50,215.73 L593.88,215.72 L594.26,215.71 L594.64,215.70 L595.01,215.69 L595.39,215.67 L595.77,215.65 L596.15,215.63 L596.53,215.61 L596.91,215.59 L597.29,215.57 L597.67,215.54 L598.04,215.51 L598.42,215.48 L598.80,215.45 L599.18,215.41 L599.56,215.37 L599.94,215.32 L600.32,215.27 L600.70,215.22 L601.07,215.16 L601.45,215.10 L601.83,215.04 L602.21,214.97 L602.59,214.90 L602.97,214.82 L603.35,214.75 L603.73,214.66 L604.10,214.57 L604.48,214.48 L604.86,214.39 L605.24,214.29 L605.62,214.18 L606.00,214.07 L606.38,213.96 L606.76,213.84 L607.13,213.72 L607.51,213.60 L607.89,213.47 L608.27,213.33 L608.65,213.19 L609.03,213.05 L609.41,212.90 L609.79,212.74 L610.16,212.58 L610.54,212.42 L610.92,212.25 L611.30,212.08 L611.68,211.90 L612.06,211.72 L612.44,211.53 L612.82,211.33 L613.19,211.13 L613.57,210.93 L613.95,210.71 L614.33,210.49 L614.71,210.27 L615.09,210.04 L615.47,209.80 L615.85,209.55 L616.22,209.29 L616.60,209.03 L616.98,208.75 L617.36,208.47 L617.74,208.17 L618.12,207.86 L618.50,207.54 L618.88,207.21 L619.25,206.87 L619.63,206.51 L620.01,206.13 L620.39,205.74 L620.77,205.32 L621.15,204.89 L621.53,204.44 L621.91,203.96 L622.28,203.45 L622.66,202.92 L623.04,202.36 L623.42,201.77 L623.80,201.14 L624.18,200.48 L624.56,199.77 L624.94,199.02 L625.31,198.22 L625.69,197.37 L626.07,196.46 L626.45,195.49 L626.83,194.46 L627.21,193.37 L627.59,192.21 L627.97,190.98 L628.34,189.67 L628.72,188.29 L629.10,186.82 L629.48,185.27 L629.86,183.64 L630.24,181.91 L630.62,180.09 L631.00,178.17 L631.37,176.16 L631.75,174.04 L632.13,171.82 L632.51,169.49 L632.89,167.06 L633.27,164.52 L633.65,161.87 L634.03,159.12 L634.40,156.25 L634.78,153.28 L635.16,150.20 L635.54,147.02 L635.92,143.74 L636.30,140.37 L636.68,136.90 L637.06,133.35 L637.43,129.72 L637.81,126.02 L638.19,122.25 L638.57,118.43 L638.95,114.58 L639.33,110.69 L639.71,106.79 L640.09,102.89 L640.46,99.00 L640.84,95.15 L641.22,91.34 L641.60,87.60 L641.98,83.96 L642.36,80.42 L642.74,77.01 L643.12,73.74 L643.49,70.66 L643.87,67.76 L644.25,65.08 L644.63,62.63 L645.01,60.43 L645.39,58.48 L645.77,56.78 L646.15,55.32 L646.52,54.11 L646.90,53.15 L647.28,52.42 L647.66,51.92 L648.04,51.65 L648.42,51.60 L648.80,51.75 L649.18,52.08 L649.55,52.59 L649.93,53.24 L650.31,54.01 L650.69,54.89 L651.07,55.85 L651.45,56.87 L651.83,57.92 L652.21,59.01 L652.58,60.12 L652.96,61.25 L653.34,62.40 L653.72,63.56 L654.10,64.75 L654.48,65.94 L654.86,67.15 L655.24,68.37 L655.61,69.59 L655.99,70.82 L656.37,72.06 L656.75,73.30 L657.13,74.54 L657.51,75.78 L657.89,77.02 L658.27,78.25 L658.64,79.48 L659.02,80.71 L659.40,81.92 L659.78,83.13 L660.16,84.33 L660.54,85.52 L660.92,86.70 L661.30,87.87 L661.67,89.02 L662.05,90.17 L662.43,91.31 L662.81,92.43 L663.19,93.55 L663.57,94.65 L663.95,95.74 L664.33,96.82 L664.70,97.88 L665.08,98.94 L665.46,99.98 L665.84,101.00 L666.22,102.02 L666.60,103.02 L666.98,104.01 L667.36,104.99 L667.73,105.95 L668.11,106.90 L668.49,107.84 L668.87,108.76 L669.25,109.67 L669.63,110.57 L670.01,111.45 L670.39,112.32 L670.76,113.17 L671.14,114.01 L671.52,114.84 L671.90,115.65 L672.28,116.45 L672.66,117.24 L673.04,118.01 L673.42,118.76 L673.79,119.51 L674.17,120.23 L674.55,120.95 L674.93,121.65 L675.31,122.33 L675.69,123.01 L676.07,123.66 L676.45,124.31 L676.83,124.94 L677.20,125.56 L677.58,126.17 L677.96,126.77 L678.34,127.35 L678.72,127.92 L679.10,128.48 L679.48,129.03 L679.86,129.57 L680.23,130.10 L680.61,130.62 L680.99,131.13 L681.37,131.63 L681.75,132.12 L682.13,132.60 L682.51,133.07 L682.89,133.53 L683.26,133.98 L683.64,134.43 L684.02,134.87 L684.40,135.29 L684.78,135.72 L685.16,136.13 L685.54,136.53 L685.92,136.93 L686.29,137.32 L686.67,137.71 L687.05,138.08 L687.43,138.45 L687.81,138.82 L688.19,139.18 L688.57,139.53 L688.95,139.87 L689.32,140.21 L689.70,140.54 L690.08,140.87 L690.46,141.19 L690.84,141.51 L691.22,141.82 L691.60,142.13 L691.98,142.43 L692.35,142.73 L692.73,143.02 L693.11,143.31 L693.49,143.59 L693.87,143.87 L694.25,144.14 L694.63,144.41 L695.01,144.68 L695.38,144.94 L695.76,145.20 L696.14,145.45 L696.52,145.70 L696.90,145.95 L697.28,146.19 L697.66,146.43 L698.04,146.67 L698.41,146.91 L698.79,147.14 L699.17,147.37 L699.55,147.59 L699.93,147.81 L700.31,148.03 L700.69,148.25 L701.07,148.47 L701.44,148.68 L701.82,148.89 L702.20,149.10 L702.58,149.31 L702.96,149.51 L703.34,149.71 L703.72,149.91 L704.10,150.11 L704.47,150.31 L704.85,150.50 L705.23,150.70 L705.61,150.89 L705.99,151.08 L706.37,151.27 L706.75,151.46 L707.13,151.65 L707.50,151.83 L707.88,152.02 L708.26,152.20 L708.64,152.39 L709.02,152.57 L709.40,152.75 L709.78,152.93 L710.16,153.11 L710.53,153.29 L710.91,153.47 L711.29,153.65 L711.67,153.82 L712.05,154.00 L712.43,154.17 L712.81,154.35 L713.19,154.52 L713.56,154.69 L713.94,154.87 L714.32,155.04 L714.70,155.21 L715.08,155.37 L715.46,155.54 L715.84,155.71 L716.22,155.87 L716.59,156.04 L716.97,156.20 L717.35,156.37 L717.73,156.53 L718.11,156.69 L718.49,156.85 L718.87,157.01 L719.25,157.17 L719.62,157.33 L720.00,157.49 L720.38,157.65 L720.76,157.80 L721.14,157.96 L721.52,158.11 L721.90,158.27 L722.28,158.42 L722.65,158.57 L723.03,158.72 L723.41,158.87 L723.79,159.02 L724.17,159.17 L724.55,159.32 L724.93,159.47 L725.31,159.61 L725.68,159.76 L726.06,159.90 L726.44,160.05 L726.82,160.19 L727.20,160.33 L727.58,160.47 L727.96,160.61 L728.34,160.75 L728.71,160.89 L729.09,161.03 L729.47,161.17 L729.85,161.30 L730.23,161.44 L730.61,161.58 L730.99,161.71 L731.37,161.84 L731.74,161.98 L732.12,162.11 L732.50,162.24 L732.88,162.37 L733.26,162.50 L733.64,162.63 L734.02,162.76 L734.40,162.88 L734.77,163.01 L735.15,163.14 L735.53,163.26 L735.91,163.39 L736.29,163.51 L736.67,163.63 L737.05,163.76 L737.43,163.88 L737.80,164.00 L738.18,164.12 L738.56,164.24 L738.94,164.36 L739.32,164.47 L739.70,164.59 L740.08,164.71 L740.46,164.82 L740.83,164.94 L741.21,165.05 L741.59,165.16 L741.97,165.28 L742.35,165.39 L742.73,165.50 L743.11,165.61 L743.49,165.72 L743.86,165.83 L744.24,165.94 L744.62,166.04 L745.00,166.15 L745.38,166.26 L745.76,166.36 L746.14,166.47 L746.52,166.57 L746.89,166.68 L747.27,166.78 L747.65,166.88 L748.03,166.98 L748.41,167.08 L748.79,167.18 L749.17,167.28 L749.55,167.38 L749.92,167.48 L750.30,167.57 L750.68,167.67 L751.06,167.76 L751.44,167.86 L751.82,167.95 L752.20,168.05 L752.58,168.14 L752.95,168.23 L753.33,168.32 L753.71,168.41 L754.09,168.50 L754.47,168.59 L754.85,168.68 L755.23,168.77 L755.61,168.86 L755.98,168.95 L756.36,169.03 L756.74,169.12 L757.12,169.20 L757.50,169.29 L757.88,169.37 L758.26,169.45 L758.64,169.53 L759.01,169.61 L759.39,169.70 L759.77,169.78 L760.15,169.85 L760.53,169.93 L760.91,170.01 L761.29,170.09 L761.67,170.17 L762.04,170.24 L762.42,170.32 L762.80,170.39 L763.18,170.47 L763.56,170.54 L763.94,170.61 L764.32,170.68 L764.70,170.76 L765.07,170.83 L765.45,170.90 L765.83,170.97 L766.21,171.03 L766.59,171.10 L766.97,171.17 L767.35,171.24 L767.73,171.30 L768.10,171.37 L768.48,171.43 L768.86,171.50 L769.24,171.56 L769.62,171.63 L770.00,171.69 L770.38,171.75 L770.76,171.81 L771.13,171.87 L771.51,171.93 L771.89,171.99 L772.27,172.05 L772.65,172.11 L773.03,172.16 L773.41,172.22 L773.79,172.28 L774.16,172.33 L774.54,172.39 L774.92,172.44 L775.30,172.49 L775.68,172.55 L776.06,172.60 L776.44,172.65 L776.82,172.70 L777.19,172.75 L777.57,172.80 L777.95,172.85 L778.33,172.90 L778.71,172.95 L779.09,172.99 L779.47,173.04 L779.85,173.09 L780.22,173.13 L780.60,173.18 L780.98,173.22 L781.36,173.26 L781.74,173.31 L782.12,173.35 L782.50,173.39 L782.88,173.43 L783.25,173.47 L783.63,173.51 L784.01,173.55 L784.39,173.59 L784.77,173.62 L785.15,173.66 L785.53,173.70 L785.91,173.73 L786.28,173.77 L786.66,173.80 L787.04,173.84 L787.42,173.87 L787.80,173.90" stroke="#00ff00"/>
<path d="M488.21,215.85 L488.58,215.85 L488.96,215.85 L489.34,215.85 L489.72,215.85 L490.10,215.85 L490.48,215.85 L490.86,215.85 L491.24,215.85 L491.61,215.85 L491.99,215.85 L492.37,215.85 L492.75,215.85 L493.13,215.85 L493.51,215.85 L493.89,215.85 L494.27,215.85 L494.64,215.85 L495.02,215.85 L495.40,215.85 L495.78,215.85 L496.16,215.85 L496.54,215.85 L496.92,215.85 L497.30,215.85 L497.67,215.85 L498.05,215.85 L498.43,215.85 L498.81,215.85 L499.19,215.85 L499.57,215.85 L499.95,215.85 L500.33,215.85 L500.70,215.85 L501.08,215.85 L501.46,215.85 L501.84,215.85 L502.22,215.85 L502.60,215.85 L502.98,215.85 L503.36,215.85 L503.73,215.85 L504.11,215.85 L504.49,215.85 L504.87,215.85 L505.25,215.85 L505.63,215.85 L506.01,215.85 L506.39,215.85 L506.76,215.85 L507.14,215.85 L507.52,215.85 L507.90,215.85 L508.28,215.85 L508.66,215.85 L509.04,215.85 L509.42,215.85 L509.79,215.85 L510.17,215.85 L510.55,215.85 L510.93,215.85 L511.31,215.85 L511.69,215.85 L512.07,215.85 L512.45,215.85 L512.82,215.85 L513.20,215.85 L513.58,215.85 L513.96,215.85 L514.34,215.85 L514.72,215.85 L515.10,215.85 L515.48,215.85 L515.85,215.85 L516.23,215.85 L516.61,215.85 L516.99,215.85 L517.37,215.85 L517.75,215.85 L518.13,215.85 L518.51,215.85 L518.88,215.85 L519.26,215.85 L519.64,215.85 L520.02,215.85 L520.40,215.85 L520.78,215.85 L521.16,215.85 L521.54,215.85 L521.91,215.85 L522.29,215.85 L522.67,215.85 L523.05,215.85 L523.43,215.85 L523.81,215.85 L524.19,215.85 L524.57,215.85 L524.94,215.85 L525.32,215.85 L525.70,215.84 L526.08,215.84 L526.46,215.84 L526.84,215.84 L527.22,215.84 L527.60,215.84 L527.97,215.84 L528.35,215.84 L528.73,215.84 L529.11,215.84 L529.49,215.84 L529.87,215.84 L530.25,215.84 L530.63,215.84 L531.00,215.83 L531.38,215.83 L531.76,215.83 L532.14,215.83 L532.52,215.83 L532.90,215.83 L533.28,215.83 L533.66,215.82 L534.03,215.82 L534.41,215.82 L534.79,215.82 L535.17,215.82 L535.55,215.81 L535.93,215.81 L536.31,215.81 L536.69,215.80 L537.06,215.80 L537.44,215.80 L537.82,215.79 L538.20,215.79 L538.58,215.78 L538.96,215.78 L539.34,215.77 L539.72,215.76 L540.09,215.76 L540.47,215.75 L540.85,215.74 L541.23,215.73 L541.61,215.72 L541.99,215.71 L542.37,215.70 L542.75,215.69 L543.12,215.68 L543.50,215.67 L543.88,215.65 L544.26,215.64 L544.64,215.62 L545.02,215.60 L545.40,215.58 L545.78,215.56 L546.15,215.54 L546.53,215.51 L546.91,215.49 L547.29,215.46 L547.67,215.45 L548.05,215.43 L548.43,215.41 L548.81,215.39 L549.18,215.37 L549.56,215.35 L549.94,215.32 L550.32,215.29 L550.70,215.26 L551.08,215.22 L551.46,215.18 L551.84,215.13 L552.21,215.08 L552.59,215.03 L552.97,214.97 L553.35,214.90 L553.73,214.83 L554.11,214.75 L554.49,214.67 L554.87,214.57 L555.24,214.47 L555.62,214.35 L556.00,214.23 L556.38,214.10 L556.76,213.95 L557.14,213.79 L557.52,213.62 L557.90,213.43 L558.27,213.23 L558.65,213.01 L559.03,212.77 L559.41,212.51 L559.79,212.24 L560.17,211.95 L560.55,211.63 L560.93,211.29 L561.31,210.94 L561.68,210.56 L562.06,210.16 L562.44,209.74 L562.82,209.29 L563.20,208.83 L563.58,208.35 L563.96,207.85 L564.34,207.33 L564.71,206.80 L565.09,206.25 L565.47,205.68 L565.85,205.10 L566.23,204.49 L566.61,203.85 L566.99,203.19 L567.37,202.50 L567.74,201.78 L568.12,201.02 L568.50,200.22 L568.88,199.36 L569.26,198.46 L569.64,197.49 L570.02,196.45 L570.40,195.33 L570.77,194.12 L571.15,192.80 L571.53,191.36 L571.91,189.80 L572.29,188.09 L572.67,186.24 L573.05,184.24 L573.43,182.07 L573.80,179.73 L574.18,177.21 L574.56,174.50 L574.94,171.59 L575.32,168.48 L575.70,165.17 L576.08,161.64 L576.46,157.89 L576.83,153.94 L577.21,149.77 L577.59,145.41 L577.97,140.84 L578.35,136.09 L578.73,131.18 L579.11,126.12 L579.49,120.95 L579.86,115.69 L580.24,110.38 L580.62,105.05 L581.00,99.77 L581.38,94.57 L581.76,89.49 L582.14,84.54 L582.52,79.75 L582.89,75.15 L583.27,70.74 L583.65,66.56 L584.03,62.61 L584.41,58.92 L584.79,55.48 L585.17,52.32 L585.55,49.44 L585.92,46.84 L586.30,44.53 L586.68,42.52 L587.06,40.79 L587.44,39.34 L587.82,38.18 L588.20,37.29 L588.58,36.66 L588.95,36.30 L589.33,36.17 L589.71,36.29 L590.09,36.62 L590.47,37.16 L590.85,37.90 L591.23,38.82 L591.61,39.90 L591.98,41.13 L592.36,42.49 L592.74,43.98 L593.12,45.57 L593.50,47.25 L593.88,49.00 L594.26,50.82 L594.64,52.69 L595.01,54.59 L595.39,56.51 L595.77,58.45 L596.15,60.38 L596.53,62.30 L596.91,64.20 L597.29,66.06 L597.67,67.89 L598.04,69.67 L598.42,71.41 L598.80,73.10 L599.18,74.76 L599.56,76.38 L599.94,77.96 L600.32,79.50 L600.70,81.01 L601.07,82.48 L601.45,83.92 L601.83,85.33 L602.21,86.70 L602.59,88.04 L602.97,89.35 L603.35,90.64 L603.73,91.89 L604.10,93.12 L604.48,94.32 L604.86,95.49 L605.24,96.64 L605.62,97.76 L606.00,98.86 L606.38,99.94 L606.76,100.99 L607.13,102.02 L607.51,103.03 L607.89,104.02 L608.27,104.98 L608.65,105.93 L609.03,106.86 L609.41,107.77 L609.79,108.66 L610.16,109.53 L610.54,110.38 L610.92,111.22 L611.30,112.04 L611.68,112.85 L612.06,113.64 L612.44,114.41 L612.82,115.17 L613.19,115.92 L613.57,116.65 L613.95,117.37 L614.33,118.07 L614.71,118.76 L615.09,119.44 L615.47,120.11 L615.85,120.76 L616.22,121.41 L616.60,122.04 L616.98,122.66 L617.36,123.27 L617.74,123.87 L618.12,124.46 L618.50,125.04 L618.88,125.61 L619.25,126.17 L619.63,126.72 L620.01,127.26 L620.39,127.80 L620.77,128.32 L621.15,128.84 L621.53,129.35 L621.91,129.86 L622.28,130.35 L622.66,130.84 L623.04,131.32 L623.42,131.79 L623.80,132.25 L624.18,132.71 L624.56,133.16 L624.94,133.61 L625.31,134.04 L625.69,134.48 L626.07,134.90 L626.45,135.32 L626.83,135.73 L627.21,136.14 L627.59,136.54 L627.97,136.93 L628.34,137.32 L628.72,137.70 L629.10,138.08 L629.48,138.45 L629.86,138.81 L630.24,139.18 L630.62,139.53 L631.00,139.88 L631.37,140.23 L631.75,140.57 L632.13,140.90 L632.51,141.23 L632.89,141.56 L633.27,141.88 L633.65,142.20 L634.03,142.51 L634.40,142.82 L634.78,143.12 L635.16,143.42 L635.54,143.72 L635.92,144.01 L636.30,144.30 L636.68,144.58 L637.06,144.86 L637.43,145.14 L637.81,145.41 L638.19,145.68 L638.57,145.95 L638.95,146.21 L639.33,146.47 L639.71,146.72 L640.09,146.97 L640.46,147.22 L640.84,147.47 L641.22,147.71 L641.60,147.95 L641.98,148.19 L642.36,148.42 L642.74,148.65 L643.12,148.88 L643.49,149.10 L643.87,149.32 L644.25,149.54 L644.63,149.76 L645.01,149.97 L645.39,150.19 L645.77,150.40 L646.15,150.60 L646.52,150.81 L646.90,151.01 L647.28,151.21 L647.66,151.41 L648.04,151.60 L648.42,151.80 L648.80,151.99 L649.18,152.18 L649.55,152.37 L649.93,152.55 L650.31,152.73 L650.69,152.92 L651.07,153.10 L651.45,153.27 L651.83,153.45 L652.21,153.63 L652.58,153.80 L652.96,153.97 L653.34,154.14 L653.72,154.31 L654.10,154.47 L654.48,154.64 L654.86,154.80 L655.24,154.97 L655.61,155.13 L655.99,155.29 L656.37,155.45 L656.75,155.60 L657.13,155.76 L657.51,155.92 L657.89,156.07 L658.27,156.22 L658.64,156.38 L659.02,156.53 L659.40,156.68 L659.78,156.83 L660.16,156.97 L660.54,157.12 L660.92,157.27 L661.30,157.41 L661.67,157.56 L662.05,157.70 L662.43,157.84 L662.81,157.99 L663.19,158.13 L663.57,158.27 L663.95,158.41 L664.33,158.55 L664.70,158.68 L665.08,158.82 L665.46,158.96 L665.84,159.09 L666.22,159.23 L666.60,159.36 L666.98,159.50 L667.36,159.63 L667.73,159.76 L668.11,159.89 L668.49,160.02 L668.87,160.15 L669.25,160.28 L669.63,160.41 L670.01,160.54 L670.39,160.67 L670.76,160.79 L671.14,160.92 L671.52,161.04 L671.90,161.17 L672.28,161.29 L672.66,161.41 L673.04,161.53 L673.42,161.66 L673.79,161.78 L674.17,161.90 L674.55,162.02 L674.93,162.13 L675.31,162.25 L675.69,162.37 L676.07,162.49 L676.45,162.60 L676.83,162.72 L677.20,162.83 L677.58,162.95 L677.96,163.06 L678.34,163.17 L678.72,163.29 L679.10,163.40 L679.48,163.51 L679.86,163.62 L680.23,163.73 L680.61,163.84 L680.99,163.95 L681.37,164.05 L681.75,164.16 L682.13,164.27 L682.51,164.37 L682.89,164.48 L683.26,164.58 L683.64,164.69 L684.02,164.79 L684.40,164.89 L684.78,165.00 L685.16,165.10 L685.54,165.20 L685.92,165.30 L686.29,165.40 L686.67,165.50 L687.05,165.60 L687.43,165.70 L687.81,165.80 L688.19,165.90 L688.57,165.99 L688.95,166.09 L689.32,166.18 L689.70,166.28 L690.08,166.38 L690.46,166.47 L690.84,166.56 L691.22,166.66 L691.60,166.75 L691.98,166.84 L692.35,166.93 L692.73,167.03 L693.11,167.12 L693.49,167.21 L693.87,167.30 L694.25,167.39 L694.63,167.47 L695.01,167.56 L695.38,167.65 L695.76,167.74 L696.14,167.82 L696.52,167.91 L696.90,168.00 L697.28,168.08 L697.66,168.17 L698.04,168.25 L698.41,168.34 L698.79,168.42 L699.17,168.50 L699.55,168.59 L699.93,168.67 L700.31,168.75 L700.69,168.83 L701.07,168.91 L701.44,168.99 L701.82,169.07 L702.20,169.15 L702.58,169.23 L702.96,169.31 L703.34,169.39 L703.72,169.47 L704.10,169.54 L704.47,169.62 L704.85,169.70 L705.23,169.77 L705.61,169.85 L705.99,169.92 L706.37,170.00 L706.75,170.07 L707.13,170.15 L707.50,170.22 L707.88,170.29 L708.26,170.37 L708.64,170.44 L709.02,170.51 L709.40,170.58 L709.78,170.65 L710.16,170.73 L710.53,170.80 L710.91,170.87 L711.29,170.94 L711.67,171.01 L712.05,171.07 L712.43,171.14 L712.81,171.21 L713.19,171.28 L713.56,171.35 L713.94,171.41 L714.32,171.48 L714.70,171.55 L715.08,171.61 L715.46,171.68 L715.84,171.74 L716.22,171.81 L716.59,171.87 L716.97,171.94 L717.35,172.00 L717.73,172.06 L718.11,172.13 L718.49,172.19 L718.87,172.25 L719.25,172.32 L719.62,172.38 L720.00,172.44 L720.38,172.50 L720.76,172.56 L721.14,172.62 L721.52,172.68 L721.90,172.74 L722.28,172.80 L722.65,172.86 L723.03,172.92 L723.41,172.98 L723.79,173.04 L724.17,173.09 L724.55,173.15 L724.93,173.21 L725.31,173.26 L725.68,173.32 L726.06,173.38 L726.44,173.43 L726.82,173.49 L727.20,173.54 L727.58,173.60 L727.96,173.65 L728.34,173.71 L728.71,173.76 L729.09,173.82 L729.47,173.87 L729.85,173.92 L730.23,173.98 L730.61,174.03 L730.99,174.08 L731.37,174.13 L731.74,174.19 L732.12,174.24 L732.50,174.29 L732.88,174.34 L733.26,174.39 L733.64,174.44 L734.02,174.49 L734.40,174.54 L734.77,174.59 L735.15,174.64 L735.53,174.69 L735.91,174.74 L736.29,174.79 L736.67,174.83 L737.05,174.88 L737.43,174.93 L737.80,174.98 L738.18,175.02 L738.56,175.07 L738.94,175.12 L739.32,175.16 L739.70,175.21 L740.08,175.26 L740.46,175.30 L740.83,175.35 L741.21,175.39 L741.59,175.44 L741.97,175.48 L742.35,175.53 L742.73,175.57 L743.11,175.61 L743.49,175.66 L743.86,175.70 L744.24,175.74 L744.62,175.79 L745.00,175.83 L745.38,175.87 L745.76,175.91 L746.14,175.96 L746.52,176.00 L746.89,176.04 L747.27,176.08 L747.65,176.12 L748.03,176.16 L748.41,176.20 L748.79,176.24 L749.17,176.28 L749.55,176.32 L749.92,176.36 L750.30,176.40 L750.68,176.44 L751.06,176.48 L751.44,176.52 L751.82,176.56 L752.20,176.60 L752.58,176.64 L752.95,176.67 L753.33,176.71 L753.71,176.75 L754.09,176.79 L754.47,176.82 L754.85,176.86 L755.23,176.90 L755.61,176.93 L755.98,176.97 L756.36,177.01 L756.74,177.04 L757.12,177.08 L757.50,177.11 L757.88,177.15 L758.26,177.18 L758.64,177.22 L759.01,177.25 L759.39,177.29 L759.77,177.32 L760.15,177.36 L760.53,177.39 L760.91,177.42 L761.29,177.46 L761.67,177.49 L762.04,177.52 L762.42,177.56 L762.80,177.59 L763.18,177.62 L763.56,177.65 L763.94,177.69 L764.32,177.72 L764.70,177.75 L765.07,177.78 L765.45,177.81 L765.83,177.85 L766.21,177.88 L766.59,177.91 L766.97,177.94 L767.35,177.97 L767.73,178.00 L768.10,178.03 L768.48,178.06 L768.86,178.09 L769.24,178.12 L769.62,178.15 L770.00,178.18 L770.38,178.21 L770.76,178.24 L771.13,178.27 L771.51,178.29 L771.89,178.32 L772.27,178.35 L772.65,178.38 L773.03,178.41 L773.41,178.44 L773.79,178.46 L774.16,178.49 L774.54,178.52 L774.92,178.55 L775.30,178.57 L775.68,178.60 L776.06,178.63 L776.44,178.65 L776.82,178.68 L777.19,178.71 L777.57,178.73 L777.95,178.76 L778.33,178.79 L778.71,178.81 L779.09,178.84 L779.47,178.86 L779.85,178.89 L780.22,178.91 L780.60,178.94 L780.98,178.96 L781.36,178.99 L781.74,179.01 L782.12,179.04 L782.50,179.06 L782.88,179.09 L783.25,179.11 L783.63,179.14 L784.01,179.16 L784.39,179.18 L784.77,179.21 L785.15,179.23 L785.53,179.25 L785.91,179.28 L786.28,179.30 L786.66,179.32 L787.04,179.35 L787.42,179.37 L787.80,179.39" stroke="#ff00ff"/>
<path d="M447.30,215.85 L447.68,215.85 L448.06,215.85 L448.44,215.85 L448.82,215.85 L449.19,215.85 L449.57,215.85 L449.95,215.85 L450.33,215.85 L450.71,215.85 L451.09,215.85 L451.47,215.85 L451.85,215.85 L452.22,215.85 L452.60,215.85 L452.98,215.85 L453.36,215.85 L453.74,215.85 L454.12,215.85 L454.50,215.85 L454.88,215.85 L455.25,215.85 L455.63,215.85 L456.01,215.85 L456.39,215.85 L456.77,215.85 L457.15,215.85 L457.53,215.85 L457.91,215.85 L458.28,215.85 L458.66,215.85 L459.04,215.85 L459.42,215.85 L459.80,215.85 L460.18,215.85 L460.56,215.85 L460.94,215.85 L461.31,215.85 L461.69,215.85 L462.07,215.85 L462.45,215.85 L462.83,215.85 L463.21,215.85 L463.59,215.85 L463.97,215.85 L464.34,215.85 L464.72,215.85 L465.10,215.85 L465.48,215.85 L465.86,215.85 L466.24,215.85 L466.62,215.85 L467.00,215.85 L467.37,215.85 L467.75,215.85 L468.13,215.85 L468.51,215.85 L468.89,215.85 L469.27,215.85 L469.65,215.85 L470.03,215.85 L470.40,215.85 L470.78,215.85 L471.16,215.85 L471.54,215.85 L471.92,215.85 L472.30,215.85 L472.68,215.85 L473.06,215.85 L473.43,215.85 L473.81,215.85 L474.19,215.85 L474.57,215.85 L474.95,215.84 L475.33,215.84 L475.71,215.84 L476.09,215.84 L476.46,215.84 L476.84,215.84 L477.22,215.84 L477.60,215.84 L477.98,215.84 L478.36,215.84 L478.74,215.84 L479.12,215.84 L479.49,215.84 L479.87,215.84 L480.25,215.84 L480.63,215.83 L481.01,215.83 L481.39,215.83 L481.77,215.83 L482.15,215.83 L482.52,215.83 L482.90,215.82 L483.28,215.82 L483.66,215.82 L484.04,215.82 L484.42,215.82 L484.80,215.81 L485.18,215.81 L485.55,215.81 L485.93,215.80 L486.31,215.80 L486.69,215.80 L487.07,215.79 L487.45,215.79 L487.83,215.78 L488.21,215.78 L488.58,215.77 L488.96,215.77 L489.34,215.76 L489.72,215.75 L490.10,215.74 L490.48,215.74 L490.86,215.73 L491.24,215.72 L491.61,215.71 L491.99,215.69 L492.37,215.68 L492.75,215.67 L493.13,215.66 L493.51,215.64 L493.89,215.62 L494.27,215.61 L494.64,215.59 L495.02,215.57 L495.40,215.54 L495.78,215.52 L496.16,215.49 L496.54,215.46 L496.92,215.43 L497.30,215.40 L497.67,215.37 L498.05,215.33 L498.43,215.29 L498.81,215.24 L499.19,215.20 L499.57,215.14 L499.95,215.09 L500.33,215.04 L500.70,214.97 L501.08,214.91 L501.46,214.84 L501.84,214.76 L502.22,214.67 L502.60,214.58 L502.98,214.47 L503.36,214.36 L503.73,214.23 L504.11,214.10 L504.49,213.94 L504.87,213.78 L505.25,213.60 L505.63,213.40 L506.01,213.18 L506.39,212.94 L506.76,212.68 L507.14,212.39 L507.52,212.07 L507.90,211.72 L508.28,211.34 L508.66,210.92 L509.04,210.46 L509.42,209.96 L509.79,209.40 L510.17,208.79 L510.55,208.13 L510.93,207.40 L511.31,206.60 L511.69,205.72 L512.07,204.77 L512.45,203.72 L512.82,202.58 L513.20,201.33 L513.58,199.96 L513.96,198.48 L514.34,196.86 L514.72,195.09 L515.10,193.17 L515.48,191.09 L515.85,188.83 L516.23,186.37 L516.61,183.71 L516.99,180.84 L517.37,177.73 L517.75,174.38 L518.13,170.76 L518.51,166.88 L518.88,162.72 L519.26,158.27 L519.64,153.53 L520.02,148.50 L520.40,143.18 L520.78,137.58 L521.16,131.70 L521.54,125.56 L521.91,119.18 L522.29,112.58 L522.67,105.79 L523.05,98.86 L523.43,91.82 L523.81,84.73 L524.19,77.64 L524.57,70.62 L524.94,63.72 L525.32,57.04 L525.70,50.63 L526.08,44.56 L526.46,38.88 L526.84,33.61 L527.22,28.79 L527.60,24.46 L527.97,20.65 L528.35,17.37 L528.73,14.64 L529.11,12.47 L529.49,10.87 L529.87,9.84 L530.25,9.37 L530.63,9.44 L531.00,10.00 L531.38,11.00 L531.76,12.39 L532.14,14.11 L532.52,16.11 L532.90,18.33 L533.28,20.73 L533.66,23.25 L534.03,25.89 L534.41,28.60 L534.79,31.39 L535.17,34.22 L535.55,37.08 L535.93,39.95 L536.31,42.82 L536.69,45.68 L537.06,48.50 L537.44,51.28 L537.82,54.00 L538.20,56.66 L538.58,59.23 L538.96,61.73 L539.34,64.14 L539.72,66.47 L540.09,68.72 L540.47,70.90 L540.85,73.01 L541.23,75.06 L541.61,77.03 L541.99,78.95 L542.37,80.80 L542.75,82.60 L543.12,84.34 L543.50,86.03 L543.88,87.66 L544.26,89.25 L544.64,90.78 L545.02,92.27 L545.40,93.71 L545.78,95.11 L546.15,96.47 L546.53,97.79 L546.91,99.07 L547.29,100.31 L547.67,101.51 L548.05,102.68 L548.43,103.82 L548.81,104.92 L549.18,105.99 L549.56,107.03 L549.94,108.04 L550.32,109.02 L550.70,109.98 L551.08,110.91 L551.46,111.81 L551.84,112.69 L552.21,113.54 L552.59,114.38 L552.97,115.19 L553.35,115.97 L553.73,116.74 L554.11,117.49 L554.49,118.22 L554.87,118.92 L555.24,119.62 L555.62,120.29 L556.00,120.95 L556.38,121.59 L556.76,122.22 L557.14,122.83 L557.52,123.42 L557.90,124.01 L558.27,124.58 L558.65,125.14 L559.03,125.68 L559.41,126.22 L559.79,126.74 L560.17,127.25 L560.55,127.75 L560.93,128.24 L561.31,128.73 L561.68,129.20 L562.06,129.66 L562.44,130.12 L562.82,130.57 L563.20,131.01 L563.58,131.45 L563.96,131.87 L564.34,132.30 L564.71,132.71 L565.09,133.12 L565.47,133.53 L565.85,133.93 L566.23,134.33 L566.61,134.72 L566.99,135.10 L567.37,135.48 L567.74,135.86 L568.12,136.23 L568.50,136.60 L568.88,136.96 L569.26,137.32 L569.64,137.68 L570.02,138.03 L570.40,138.37 L570.77,138.71 L571.15,139.05 L571.53,139.38 L571.91,139.71 L572.29,140.04 L572.67,140.36 L573.05,140.67 L573.43,140.99 L573.80,141.30 L574.18,141.60 L574.56,141.91 L574.94,142.21 L575.32,142.50 L575.70,142.79 L576.08,143.08 L576.46,143.37 L576.83,143.65 L577.21,143.93 L577.59,144.21 L577.97,144.48 L578.35,144.75 L578.73,145.01 L579.11,145.28 L579.49,145.54 L579.86,145.79 L580.24,146.05 L580.62,146.30 L581.00,146.55 L581.38,146.80 L581.76,147.04 L582.14,147.28 L582.52,147.52 L582.89,147.75 L583.27,147.99 L583.65,148.22 L584.03,148.44 L584.41,148.67 L584.79,148.89 L585.17,149.11 L585.55,149.33 L585.92,149.55 L586.30,149.76 L586.68,149.97 L587.06,150.18 L587.44,150.39 L587.82,150.60 L588.20,150.80 L588.58,151.00 L588.95,151.20 L589.33,151.40 L589.71,151.59 L590.09,151.78 L590.47,151.97 L590.85,152.16 L591.23,152.35 L591.61,152.54 L591.98,152.72 L592.36,152.90 L592.74,153.08 L593.12,153.26 L593.50,153.44 L593.88,153.61 L594.26,153.79 L594.64,153.96 L595.01,154.13 L595.39,154.30 L595.77,154.46 L596.15,154.63 L596.53,154.80 L596.91,154.96 L597.29,155.12 L597.67,155.28 L598.04,155.44 L598.42,155.60 L598.80,155.75 L599.18,155.91 L599.56,156.06 L599.94,156.21 L600.32,156.36 L600.70,156.51 L601.07,156.66 L601.45,156.81 L601.83,156.96 L602.21,157.10 L602.59,157.25 L602.97,157.39 L603.35,157.53 L603.73,157.67 L604.10,157.81 L604.48,157.95 L604.86,158.09 L605.24,158.23 L605.62,158.36 L606.00,158.50 L606.38,158.63 L606.76,158.77 L607.13,158.90 L607.51,159.03 L607.89,159.16 L608.27,159.29 L608.65,159.42 L609.03,159.55 L609.41,159.68 L609.79,159.80 L610.16,159.93 L610.54,160.06 L610.92,160.18 L611.30,160.31 L611.68,160.43 L612.06,160.55 L612.44,160.68 L612.82,160.80 L613.19,160.92 L613.57,161.04 L613.95,161.16 L614.33,161.28 L614.71,161.40 L615.09,161.52 L615.47,161.63 L615.85,161.75 L616.22,161.87 L616.60,161.98 L616.98,162.10 L617.36,162.21 L617.74,162.32 L618.12,162.44 L618.50,162.55 L618.88,162.66 L619.25,162.77 L619.63,162.88 L620.01,162.99 L620.39,163.10 L620.77,163.21 L621.15,163.32 L621.53,163.43 L621.91,163.53 L622.28,163.64 L622.66,163.75 L623.04,163.85 L623.42,163.96 L623.80,164.06 L624.18,164.17 L624.56,164.27 L624.94,164.37 L625.31,164.47 L625.69,164.57 L626.07,164.68 L626.45,164.78 L626.83,164.88 L627.21,164.98 L627.59,165.08 L627.97,165.17 L628.34,165.27 L628.72,165.37 L629.10,165.47 L629.48,165.56 L629.86,165.66 L630.24,165.75 L630.62,165.85 L631.00,165.94 L631.37,166.04 L631.75,166.13 L632.13,166.22 L632.51,166.32 L632.89,166.41 L633.27,166.50 L633.65,166.59 L634.03,166.68 L634.40,166.77 L634.78,166.86 L635.16,166.95 L635.54,167.04 L635.92,167.13 L636.30,167.22 L636.68,167.30 L637.06,167.39 L637.43,167.48 L637.81,167.56 L638.19,167.65 L638.57,167.74 L638.95,167.82 L639.33,167.90 L639.71,167.99 L640.09,168.07 L640.46,168.16 L640.84,168.24 L641.22,168.32 L641.60,168.40 L641.98,168.48 L642.36,168.56 L642.74,168.65 L643.12,168.73 L643.49,168.81 L643.87,168.89 L644.25,168.96 L644.63,169.04 L645.01,169.12 L645.39,169.20 L645.77,169.28 L646.15,169.35 L646.52,169.43 L646.90,169.51 L647.28,169.58 L647.66,169.66 L648.04,169.73 L648.42,169.81 L648.80,169.88 L649.18,169.96 L649.55,170.03 L649.93,170.10 L650.31,170.18 L650.69,170.25 L651.07,170.32 L651.45,170.40 L651.83,170.47 L652.21,170.54 L652.58,170.61 L652.96,170.68 L653.34,170.75 L653.72,170.82 L654.10,170.89 L654.48,170.96 L654.86,171.03 L655.24,171.10 L655.61,171.16 L655.99,171.23 L656.37,171.30 L656.75,171.37 L657.13,171.43 L657.51,171.50 L657.89,171.57 L658.27,171.63 L658.64,171.70 L659.02,171.76 L659.40,171.83 L659.78,171.89 L660.16,171.96 L660.54,172.02 L660.92,172.09 L661.30,172.15 L661.67,172.21 L662.05,172.28 L662.43,172.34 L662.81,172.40 L663.19,172.46 L663.57,172.53 L663.95,172.59 L664.33,172.65 L664.70,172.71 L665.08,172.77 L665.46,172.83 L665.84,172.89 L666.22,172.95 L666.60,173.01 L666.98,173.07 L667.36,173.13 L667.73,173.19 L668.11,173.24 L668.49,173.30 L668.87,173.36 L669.25,173.42 L669.63,173.48 L670.01,173.53 L670.39,173.59 L670.76,173.65 L671.14,173.70 L671.52,173.76 L671.90,173.81 L672.28,173.87 L672.66,173.93 L673.04,173.98 L673.42,174.03 L673.79,174.09 L674.17,174.14 L674.55,174.20 L674.93,174.25 L675.31,174.31 L675.69,174.36 L676.07,174.41 L676.45,174.46 L676.83,174.52 L677.20,174.57 L677.58,174.62 L677.96,174.67 L678.34,174.73 L678.72,174.78 L679.10,174.83 L679.48,174.88 L679.86,174.93 L680.23,174.98 L680.61,175.03 L680.99,175.08 L681.37,175.13 L681.75,175.18 L682.13,175.23 L682.51,175.28 L682.89,175.33 L683.26,175.38 L683.64,175.43 L684.02,175.48 L684.40,175.52 L684.78,175.57 L685.16,175.62 L685.54,175.67 L685.92,175.71 L686.29,175.76 L686.67,175.81 L687.05,175.86 L687.43,175.90 L687.81,175.95 L688.19,176.00 L688.57,176.04 L688.95,176.09 L689.32,176.13 L689.70,176.18 L690.08,176.22 L690.46,176.27 L690.84,176.31 L691.22,176.36 L691.60,176.40 L691.98,176.45 L692.35,176.49 L692.73,176.54 L693.11,176.58 L693.49,176.62 L693.87,176.67 L694.25,176.71 L694.63,176.75 L695.01,176.80 L695.38,176.84 L695.76,176.88 L696.14,176.92 L696.52,176.97 L696.90,177.01 L697.28,177.05 L697.66,177.09 L698.04,177.13 L698.41,177.18 L698.79,177.22 L699.17,177.26 L699.55,177.30 L699.93,177.34 L700.31,177.38 L700.69,177.42 L701.07,177.46 L701.44,177.50 L701.82,177.54 L702.20,177.58 L702.58,177.62 L702.96,177.66 L703.34,177.70 L703.72,177.74 L704.10,177.78 L704.47,177.82 L704.85,177.86 L705.23,177.90 L705.61,177.94 L705.99,177.97 L706.37,178.01 L706.75,178.05 L707.13,178.09 L707.50,178.13 L707.88,178.17 L708.26,178.20 L708.64,178.24 L709.02,178.28 L709.40,178.32 L709.78,178.35 L710.16,178.39 L710.53,178.43 L710.91,178.46 L711.29,178.50 L711.67,178.54 L712.05,178.57 L712.43,178.61 L712.81,178.65 L713.19,178.68 L713.56,178.72 L713.94,178.75 L714.32,178.79 L714.70,178.82 L715.08,178.86 L715.46,178.90 L715.84,178.93 L716.22,178.97 L716.59,179.00 L716.97,179.04 L717.35,179.07 L717.73,179.11 L718.11,179.14 L718.49,179.17 L718.87,179.21 L719.25,179.24 L719.62,179.28 L720.00,179.31 L720.38,179.35 L720.76,179.38 L721.14,179.41 L721.52,179.45 L721.90,179.48 L722.28,179.51 L722.65,179.55 L723.03,179.58 L723.41,179.61 L723.79,179.65 L724.17,179.68 L724.55,179.71 L724.93,179.75 L725.31,179.78 L725.68,179.81 L726.06,179.84 L726.44,179.88 L726.82,179.91 L727.20,179.94 L727.58,179.97 L727.96,180.00 L728.34,180.04 L728.71,180.07 L729.09,180.10 L729.47,180.13 L729.85,180.16 L730.23,180.20 L730.61,180.23 L730.99,180.26 L731.37,180.29 L731.74,180.32 L732.12,180.35 L732.50,180.38 L732.88,180.41 L733.26,180.45 L733.64,180.48 L734.02,180.51 L734.40,180.54 L734.77,180.57 L735.15,180.60 L735.53,180.63 L735.91,180.66 L736.29,180.69 L736.67,180.72 L737.05,180.75 L737.43,180.78 L737.80,180.81 L738.18,180.84 L738.56,180.87 L738.94,180.90 L739.32,180.93 L739.70,180.96 L740.08,180.99 L740.46,181.02 L740.83,181.05 L741.21,181.08 L741.59,181.11 L741.97,181.14 L742.35,181.17 L742.73,181.20 L743.11,181.23 L743.49,181.26 L743.86,181.29 L744.24,181.32 L744.62,181.34 L745.00,181.37 L745.38,181.40 L745.76,181.43 L746.14,181.46 L746.52,181.49 L746.89,181.52 L747.27,181.55 L747.65,181.58 L748.03,181.60 L748.41,181.63 L748.79,181.66 L749.17,181.69 L749.55,181.72 L749.92,181.75 L750.30,181.78 L750.68,181.80 L751.06,181.83 L751.44,181.86 L751.82,181.89 L752.20,181.92 L752.58,181.94 L752.95,181.97 L753.33,182.00 L753.71,182.03 L754.09,182.06 L754.47,182.09 L754.85,182.11 L755.23,182.14 L755.61,182.17 L755.98,182.20 L756.36,182.22 L756.74,182.25 L757.12,182.28 L757.50,182.31 L757.88,182.34 L758.26,182.36 L758.64,182.39 L759.01,182.42 L759.39,182.45 L759.77,182.47 L760.15,182.50 L760.53,182.53 L760.91,182.56 L761.29,182.58 L761.67,182.61 L762.04,182.64 L762.42,182.67 L762.80,182.69 L763.18,182.72 L763.56,182.75 L763.94,182.78 L764.32,182.80 L764.70,182.83 L765.07,182.86 L765.45,182.89 L765.83,182.91 L766.21,182.94 L766.59,182.97 L766.97,182.99 L767.35,183.02 L767.73,183.05 L768.10,183.08 L768.48,183.10 L768.86,183.13 L769.24,183.16 L769.62,183.18 L770.00,183.21 L770.38,183.24 L770.76,183.27 L771.13,183.29 L771.51,183.32 L771.89,183.35 L772.27,183.37 L772.65,183.40 L773.03,183.43 L773.41,183.46 L773.79,183.48 L774.16,183.51 L774.54,183.54 L774.92,183.56 L775.30,183.59 L775.68,183.62 L776.06,183.65 L776.44,183.67 L776.82,183.70 L777.19,183.73 L777.57,183.75 L777.95,183.78 L778.33,183.81 L778.71,183.83 L779.09,183.86 L779.47,183.89 L779.85,183.92 L780.22,183.94 L780.60,183.97 L780.98,184.00 L781.36,184.02 L781.74,184.05 L782.12,184.08 L782.50,184.11 L782.88,184.13 L783.25,184.16 L783.63,184.19 L784.01,184.21 L784.39,184.24 L784.77,184.27 L785.15,184.30 L785.53,184.32 L785.91,184.35 L786.28,184.38 L786.66,184.41 L787.04,184.43 L787.42,184.46 L787.80,184.49" stroke="#00ffff"/>
</g>
<!-- left frame -->
<g fill="none">
<path d="M55.55,1.5 H392.8" stroke="#333" stroke-width="1.1"/>
<path d="M392.2,1 V212" stroke="#555" stroke-width="1.3"/>
<path d="M55.55,0.9 V212.3" stroke="#000" stroke-width="1.3"/>
<path d="M55,211.85 H392.8" stroke="#1a1a1a" stroke-width="1.5"/>
<path d="M157,211.75 H392.8" stroke="#0d6470" stroke-width="1.9"/>
<path d="M65.16,211.85 v-2.8 M74.77,211.85 v-2.8 M84.38,211.85 v-2.8 M93.99,211.85 v-2.8 M103.60,211.85 v-4.1000000000000005 M113.21,211.85 v-2.8 M122.82,211.85 v-2.8 M132.43,211.85 v-2.8 M142.04,211.85 v-2.8 M151.65,211.85 v-4.1000000000000005 M161.26,211.85 v-2.8 M170.87,211.85 v-2.8 M180.48,211.85 v-2.8 M190.09,211.85 v-2.8 M199.70,211.85 v-4.1000000000000005 M209.31,211.85 v-2.8 M218.92,211.85 v-2.8 M228.53,211.85 v-2.8 M238.14,211.85 v-2.8 M247.75,211.85 v-4.1000000000000005 M257.36,211.85 v-2.8 M266.97,211.85 v-2.8 M276.58,211.85 v-2.8 M286.19,211.85 v-2.8 M295.80,211.85 v-4.1000000000000005 M305.41,211.85 v-2.8 M315.02,211.85 v-2.8 M324.63,211.85 v-2.8 M334.24,211.85 v-2.8 M343.85,211.85 v-4.1000000000000005 M353.46,211.85 v-2.8 M363.07,211.85 v-2.8 M372.68,211.85 v-2.8 M382.29,211.85 v-2.8 M55.55,203.99 h2.6 M55.55,196.14 h2.6 M55.55,188.28 h2.6 M55.55,180.43 h2.6 M55.55,172.57 h4.0 M55.55,164.71 h2.6 M55.55,156.86 h2.6 M55.55,149.00 h2.6 M55.55,141.15 h2.6 M55.55,133.29 h4.0 M55.55,125.43 h2.6 M55.55,117.58 h2.6 M55.55,109.72 h2.6 M55.55,101.87 h2.6 M55.55,94.01 h4.0 M55.55,86.15 h2.6 M55.55,78.30 h2.6 M55.55,70.44 h2.6 M55.55,62.59 h2.6 M55.55,54.73 h4.0 M55.55,46.87 h2.6 M55.55,39.02 h2.6 M55.55,31.16 h2.6 M55.55,23.31 h2.6 M55.55,15.45 h4.0 M55.55,7.59 h2.6" stroke="#000" stroke-width="1"/>
</g>
<!-- right frame -->
<g fill="none">
<path d="M448.6,1.6 H788.4" stroke="#333" stroke-width="1.1"/>
<path d="M787.8,1 V223" stroke="#555" stroke-width="1.3"/>
<path d="M448,222.7 H788" stroke="#666" stroke-width="1.2"/>
<path d="M448.6,1 V223" stroke="#000" stroke-width="1.4"/>
<path d="M448,208.7 H788" stroke="#111" stroke-width="1.4"/>
<path d="M457.91,208.7 v-2.2 M467.63,208.7 v-2.2 M477.34,208.7 v-2.2 M487.06,208.7 v-2.2 M496.77,208.7 v-3.6 M506.49,208.7 v-2.2 M516.20,208.7 v-2.2 M525.92,208.7 v-2.2 M535.63,208.7 v-2.2 M545.35,208.7 v-3.6 M555.07,208.7 v-2.2 M564.78,208.7 v-2.2 M574.50,208.7 v-2.2 M584.21,208.7 v-2.2 M593.92,208.7 v-3.6 M603.64,208.7 v-2.2 M613.36,208.7 v-2.2 M623.07,208.7 v-2.2 M632.78,208.7 v-2.2 M642.50,208.7 v-3.6 M652.22,208.7 v-2.2 M661.93,208.7 v-2.2 M671.64,208.7 v-2.2 M681.36,208.7 v-2.2 M691.08,208.7 v-3.6 M700.79,208.7 v-2.2 M710.50,208.7 v-2.2 M720.22,208.7 v-2.2 M729.93,208.7 v-2.2 M739.65,208.7 v-3.6 M749.37,208.7 v-2.2 M759.08,208.7 v-2.2 M768.80,208.7 v-2.2 M778.51,208.7 v-2.2 M788.23,208.7 v-3.6 M448.6,218.88 h2.2 M448.6,198.51 h2.2 M448.6,188.33 h2.2 M448.6,178.14 h2.2 M448.6,167.96 h3.6 M448.6,157.77 h2.2 M448.6,147.59 h2.2 M448.6,137.40 h2.2 M448.6,127.22 h3.6 M448.6,117.03 h2.2 M448.6,106.85 h2.2 M448.6,96.66 h2.2 M448.6,86.48 h3.6 M448.6,76.29 h2.2 M448.6,66.11 h2.2 M448.6,55.92 h2.2 M448.6,45.74 h3.6 M448.6,35.55 h2.2 M448.6,25.37 h2.2 M448.6,15.18 h2.2 M448.6,5.00 h3.6" stroke="#000" stroke-width="1"/>
</g>
<g style="font-family:'Liberation Sans',sans-serif;font-size:21.2px">
<text transform="translate(48.60,19.40) scale(0.94,1)" text-anchor="end">5</text>
<text transform="translate(48.60,60.20) scale(0.94,1)" text-anchor="end">4</text>
<text transform="translate(48.60,98.30) scale(0.94,1)" text-anchor="end">3</text>
<text transform="translate(48.60,136.00) scale(0.94,1)" text-anchor="end">2</text>
<text transform="translate(48.60,175.00) scale(0.94,1)" text-anchor="end">1</text>
<text transform="translate(93.10,234.00) scale(0.94,1)" text-anchor="start">50</text>
<text transform="translate(138.80,234.00) scale(0.94,1)" text-anchor="start" letter-spacing="-0.75">100</text>
<text transform="translate(188.80,234.00) scale(0.94,1)" text-anchor="start" letter-spacing="-0.75">150</text>
<text transform="translate(235.20,234.00) scale(0.94,1)" text-anchor="start">200</text>
<text transform="translate(283.10,234.00) scale(0.94,1)" text-anchor="start">250</text>
<text transform="translate(331.70,234.00) scale(0.94,1)" text-anchor="start">300</text>
<text transform="translate(379.60,234.00) scale(0.94,1)" text-anchor="start">350</text>
<text transform="translate(445.00,52.60) scale(0.94,1)" text-anchor="end">0.08</text>
<text transform="translate(445.00,134.30) scale(0.94,1)" text-anchor="end">0.04</text>
<text transform="translate(486.90,240.10) scale(0.94,1)" text-anchor="start">50</text>
<text transform="translate(532.90,240.10) scale(0.94,1)" text-anchor="start" letter-spacing="-0.75">100</text>
<text transform="translate(582.00,240.10) scale(0.94,1)" text-anchor="start" letter-spacing="-0.75">150</text>
<text transform="translate(628.60,240.10) scale(0.94,1)" text-anchor="start">200</text>
<text transform="translate(675.80,240.10) scale(0.94,1)" text-anchor="start">250</text>
<text transform="translate(725.00,238.70) scale(0.94,1)" text-anchor="start">300</text>
</g>
<!-- curve labels -->
<g class="ser">
<text x="101.3" y="85">4</text>
<text x="161.6" y="50.3">3</text>
<text x="221.3" y="26.9">2</text>
<text x="279.6" y="23">1</text>
<text x="307.1" y="16.7" font-style="italic" font-size="25" textLength="15.2" lengthAdjust="spacingAndGlyphs">n</text>
<path d="M322.8,9.6 H337 M322.8,14.2 H337" stroke="#000" stroke-width="1.1" fill="none"/>
<text x="337.3" y="21.1" font-size="26">0</text>
<text x="64.5" y="201.7">a</text>
<text x="503.9" y="23.8">4</text>
<text x="570.1" y="36.8">3</text>
<text x="630.6" y="53.8">2</text>
<text x="693.0" y="61.3">1</text>
<text x="739.1" y="54.8" font-style="italic" font-size="25" textLength="15.2" lengthAdjust="spacingAndGlyphs">n</text>
<path d="M755.8,47 H769.5 M755.8,51 H769.5" stroke="#111" stroke-width="1.1" fill="none"/>
<text x="770.3" y="57.6" font-size="26">0</text>
<text x="462.3" y="200">b</text>
</g>
<!-- x label -->
<g style="font-family:'Liberation Serif',serif;font-size:30.5px" stroke="#000" stroke-width="0.4">
<text x="306.8" y="269.8" letter-spacing="0.33">barrier height</text>
<text x="485.1" y="269.7" font-size="28.5" font-style="italic">U</text>
<text x="503.9" y="276.3" font-size="20">0</text>
<text x="523.3" y="267" font-size="26">(</text>
<text x="530.2" y="269.7" font-size="30">ε</text>
<text x="544.7" y="274.2" font-size="19.4" font-style="italic">L</text>
<text x="556.3" y="267" font-size="26">)</text>
</g>
<!-- left y label -->
<g transform="translate(25.3,125) rotate(-90)" style="font-family:'Liberation Serif',serif;font-size:32px" stroke="#000" stroke-width="0.35">
<text x="2.8" y="0">|</text>
<text transform="translate(7.2,-3.5) scale(1.2,1)" font-size="29" stroke-width="0.7">ψ</text>
<text x="37.3" y="0">(</text>
<text x="49" y="0">0</text>
<text x="67" y="0">)</text>
<text x="76.6" y="0">|</text>
<text x="84.7" y="-12.3" font-size="19">2</text>
</g>
<!-- right y label -->
<g transform="translate(416,96) rotate(-90)" style="font-family:'Liberation Serif',serif;font-style:italic">
<text x="0.5" y="0" font-size="32">g</text>
<text x="16" y="9" font-size="21">n</text>
</g>
</svg>
</body></html>
